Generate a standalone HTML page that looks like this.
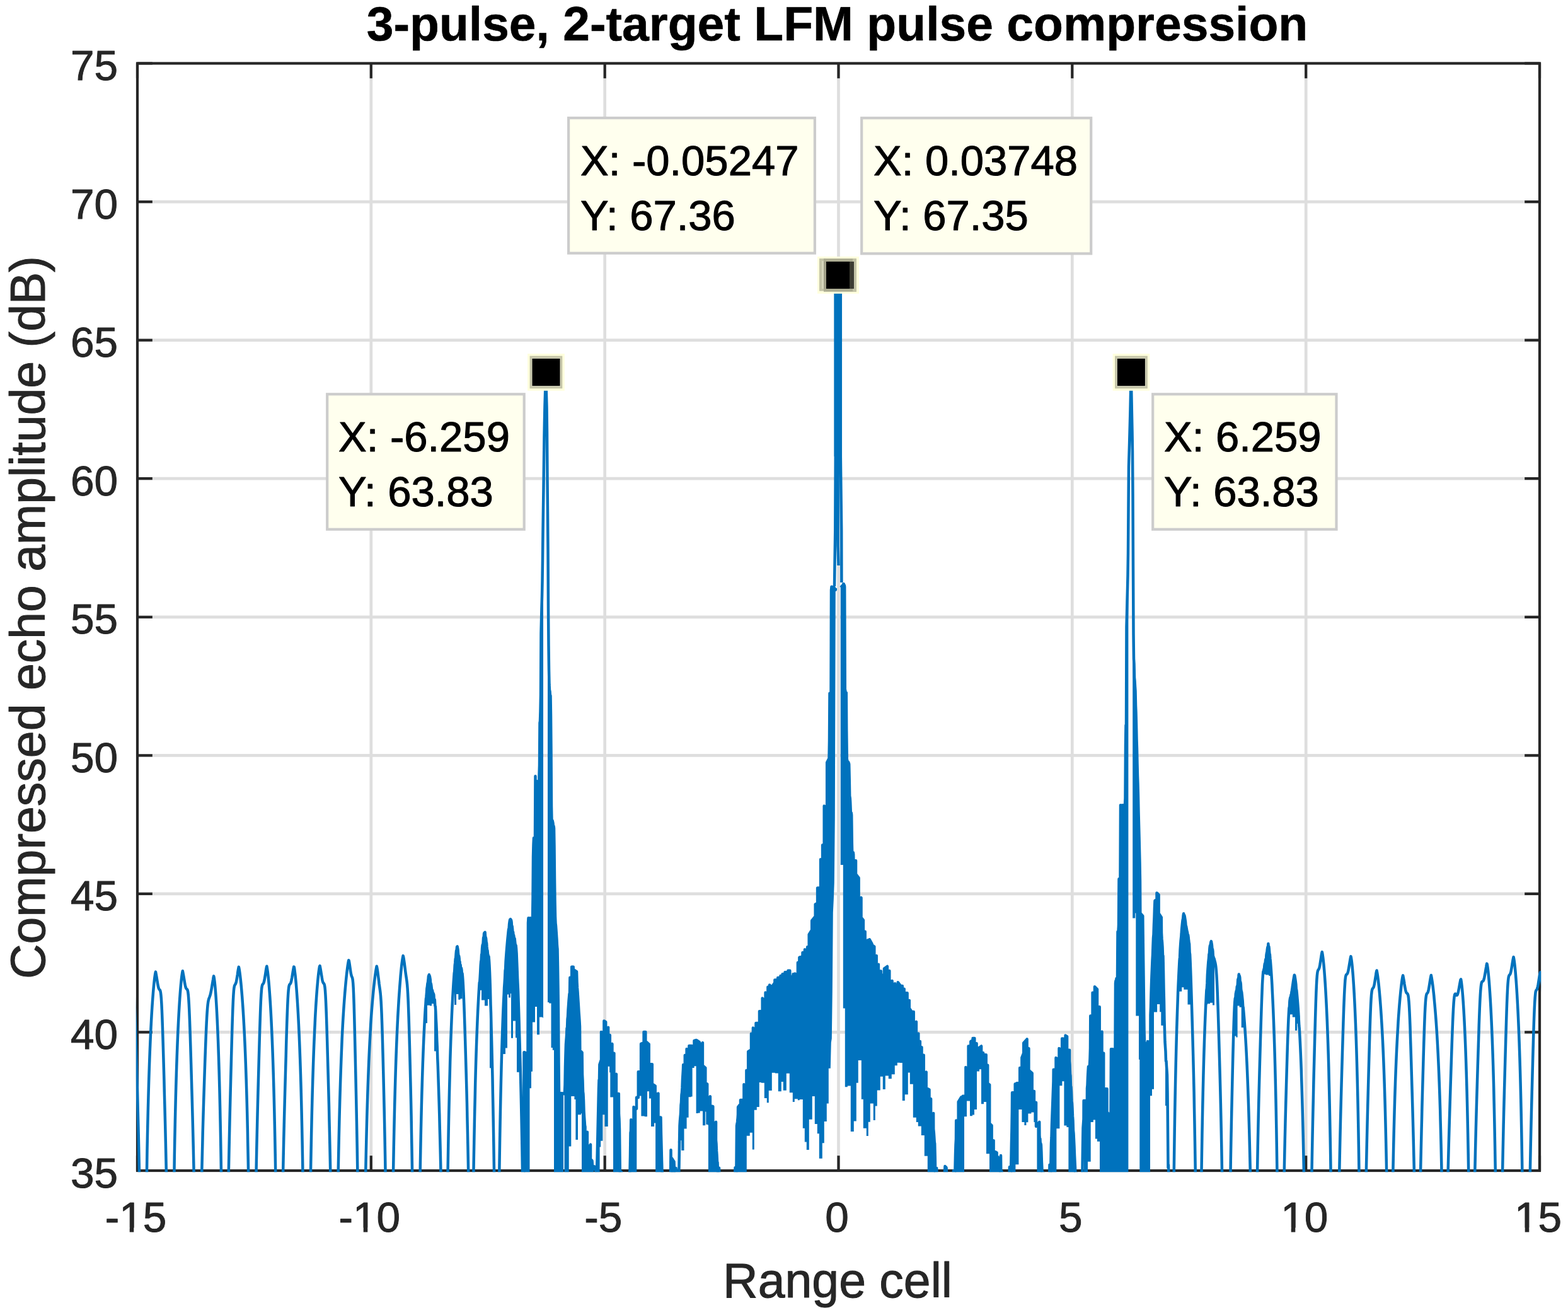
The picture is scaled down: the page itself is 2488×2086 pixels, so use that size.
<!DOCTYPE html>
<html><head><meta charset="utf-8"><title>3-pulse, 2-target LFM pulse compression</title>
<style>html,body{margin:0;padding:0;background:#fff;width:2488px;height:2086px;overflow:hidden}svg{display:block}</style>
</head><body><svg width="2488" height="2086" viewBox="0 0 2488 2086"><defs><clipPath id="clipax"><rect x="215.8" y="98.3" width="2229.4" height="1760.9"/></clipPath></defs><rect x="0" y="0" width="2488" height="2086" fill="#ffffff"/><path d="M588.8 100.5V1857.0M959.7 100.5V1857.0M1330.5 100.5V1857.0M1701.3 100.5V1857.0M2072.2 100.5V1857.0M218.0 1637.4H2443.0M218.0 1417.9H2443.0M218.0 1198.3H2443.0M218.0 978.8H2443.0M218.0 759.2H2443.0M218.0 539.6H2443.0M218.0 320.1H2443.0" stroke="#dedede" stroke-width="4.7" fill="none"/><path d="M218.0 1857.0V1833.2M218.0 100.5V124.3M588.8 1857.0V1833.2M588.8 100.5V124.3M959.7 1857.0V1833.2M959.7 100.5V124.3M1330.5 1857.0V1833.2M1330.5 100.5V124.3M1701.3 1857.0V1833.2M1701.3 100.5V124.3M2072.2 1857.0V1833.2M2072.2 100.5V124.3M2443.0 1857.0V1833.2M2443.0 100.5V124.3M218.0 1857.0H241.8M2443.0 1857.0H2419.2M218.0 1637.4H241.8M2443.0 1637.4H2419.2M218.0 1417.9H241.8M2443.0 1417.9H2419.2M218.0 1198.3H241.8M2443.0 1198.3H2419.2M218.0 978.8H241.8M2443.0 978.8H2419.2M218.0 759.2H241.8M2443.0 759.2H2419.2M218.0 539.6H241.8M2443.0 539.6H2419.2M218.0 320.1H241.8M2443.0 320.1H2419.2M218.0 100.5H241.8M2443.0 100.5H2419.2" stroke="#262626" stroke-width="4.2" fill="none"/><rect x="218.0" y="100.5" width="2225.0" height="1756.5" stroke="#262626" stroke-width="4.2" fill="none"/><g clip-path="url(#clipax)"><path d="M208.9 1567.3L209.4 1568.5L209.9 1569.2L210.4 1569.7L210.9 1570.2L211.4 1571.4L211.9 1573.6L212.4 1577.3L212.9 1582.9L213.4 1590.8L213.9 1600.9L214.4 1613.1L214.9 1627.2L215.4 1642.6L215.9 1659.2L216.4 1676.4L216.9 1694L217.4 1711.9L217.9 1730L218.4 1748.6L218.9 1767.6L219.4 1787.5L219.9 1808.5L220.4 1830.9L220.9 1854.9L221.4 1876L221.9 1876L222.4 1876L222.9 1876L223.4 1876L223.9 1876L224.4 1876L224.9 1876L225.4 1876L225.9 1876L226.4 1876L226.9 1876L227.4 1876L227.9 1876M227.1 1876L227.6 1876L228.1 1876L228.6 1876L229.1 1876L229.6 1876L230.1 1876L230.6 1876L231.1 1876L231.6 1876L232.1 1876L232.6 1876L233.1 1850.6L233.5 1823.5L234 1798.9L234.5 1776.5L235 1756L235.5 1737.2L236 1719.9L236.5 1703.9L237 1689.2L237.5 1675.5L238 1662.9L238.5 1651.1L239 1640.2L239.5 1629.9L240 1620.4L240.5 1611.5L241 1603.2L241.5 1595.4L242 1588.1L242.5 1581.3L243 1574.9L243.5 1569L244 1563.6L244.5 1558.6L245 1554.1L245.5 1550.1L246 1546.5L246.5 1543.6L247 1541.6L247.4 1543.9L247.9 1546.6L248.4 1549.5L248.9 1552.6L249.4 1555.7L249.9 1558.8L250.4 1561.7L250.9 1564.3L251.4 1566.4L251.9 1568L252.4 1569L252.9 1569.7L253.4 1570.2L253.9 1570.8L254.4 1572.1L254.9 1574.5L255.4 1578.5L255.9 1584.4L256.4 1592.6L256.9 1602.9L257.4 1615.4L257.9 1629.6L258.4 1645.1L258.9 1661.7L259.4 1678.9L259.9 1696.4L260.4 1714.2L260.8 1732.3L261.3 1750.8L261.8 1769.9L262.3 1789.7L262.8 1810.7L263.3 1833.1L263.8 1857.1L264.3 1876L264.8 1876L265.3 1876L265.8 1876L266.3 1876L266.8 1876L267.3 1876L267.8 1876L268.3 1876L268.8 1876L269.3 1876L269.8 1876L270.3 1876L270.8 1876M270.9 1876L271.4 1876L271.9 1876L272.4 1876L272.9 1876L273.4 1876L273.9 1876L274.4 1876L274.9 1876L275.4 1876L275.9 1876L276.4 1863.4L276.8 1833.7L277.3 1806.9L277.8 1782.6L278.3 1760.5L278.8 1740.3L279.3 1721.8L279.8 1704.8L280.3 1689.1L280.8 1674.6L281.3 1661.3L281.8 1648.9L282.3 1637.3L282.8 1626.6L283.3 1616.7L283.8 1607.4L284.3 1598.7L284.8 1590.7L285.3 1583.2L285.8 1576.2L286.3 1569.8L286.8 1563.9L287.3 1558.6L287.8 1553.8L288.3 1549.5L288.8 1545.8L289.3 1542.7L289.8 1540.3L290.3 1542.7L290.8 1545.3L291.3 1548.1L291.8 1551.1L292.3 1554.2L292.8 1557.2L293.3 1560.1L293.8 1562.7L294.3 1564.9L294.8 1566.6L295.3 1567.8L295.8 1568.5L296.3 1568.9L296.8 1569.3L297.3 1570L297.8 1571.4L298.3 1574L298.8 1578.2L299.3 1584.2L299.8 1592.3L300.3 1602.5L300.8 1614.6L301.3 1628.2L301.8 1643.2L302.3 1659L302.8 1675.5L303.3 1692.3L303.8 1709.4L304.3 1726.7L304.8 1744.4L305.3 1762.6L305.8 1781.5L306.3 1801.4L306.8 1822.4L307.3 1844.9L307.8 1869.1L308.3 1876L308.8 1876L309.3 1876L309.8 1876L310.3 1876L310.8 1876L311.3 1876L311.8 1876L312.3 1876L312.8 1876L313.3 1876L313.8 1876L314.3 1876L314.8 1876M312.3 1876L312.8 1876L313.3 1876L313.8 1876L314.3 1876L314.8 1876L315.3 1876L315.8 1876L316.3 1876L316.8 1876L317.3 1876L317.8 1876L318.3 1876L318.8 1876L319.3 1876L319.8 1876L320.3 1856.4L320.8 1835.2L321.3 1815.4L321.7 1796.7L322.2 1779L322.7 1762.1L323.2 1745.9L323.7 1730.2L324.2 1714.9L324.7 1700L325.2 1685.4L325.7 1671.3L326.2 1657.8L326.7 1645L327.2 1633.1L327.7 1622.4L328.2 1613L328.7 1605L329.2 1598.6L329.7 1593.5L330.2 1589.7L330.7 1587L331.2 1585L331.7 1583.5L332.2 1582.3L332.7 1581L333.2 1579.6L333.7 1577.9L334.2 1575.9L334.7 1573.5L335.2 1570.9L335.7 1568.1L336.2 1565.1L336.7 1562L337.2 1559L337.7 1556.1L338.2 1553.3L338.6 1550.7L339.1 1548.4L339.6 1550.4L340.1 1553.7L340.6 1557.8L341.1 1562.6L341.6 1568.1L342.1 1574.4L342.6 1581.4L343.1 1589.1L343.6 1597.5L344.1 1606.7L344.6 1616.7L345.1 1627.6L345.6 1639.4L346.1 1652.2L346.6 1666.1L347.1 1681.2L347.6 1697.6L348.1 1715.6L348.6 1735.2L349.1 1756.6L349.6 1780.3L350.1 1806.4L350.6 1835.5L351.1 1868L351.6 1876L352.1 1876L352.6 1876L353.1 1876L353.6 1876L354.1 1876L354.6 1876L355.1 1876L355.5 1876L356 1876M356.5 1876L357 1876L357.5 1876L358 1876L358.5 1876L359 1876L359.5 1876L360 1876L360.5 1876L361 1876L361.4 1876L361.9 1876L362.4 1876L362.9 1854.3L363.4 1828.5L363.9 1804.7L364.4 1782.4L364.9 1761.3L365.4 1741.2L365.9 1721.6L366.4 1702.3L366.9 1683.4L367.4 1664.8L367.9 1646.7L368.4 1629.4L368.9 1613.5L369.4 1599.5L369.9 1587.7L370.4 1578.4L370.9 1571.6L371.4 1567.1L371.9 1564.3L372.4 1562.9L372.9 1562.1L373.4 1561.4L373.9 1560.5L374.4 1559.1L374.9 1557.2L375.4 1554.6L375.9 1551.7L376.4 1548.5L376.9 1545.3L377.3 1542.1L377.8 1539L378.3 1536.3L378.8 1533.9L379.3 1535.8L379.8 1538.7L380.3 1542L380.8 1545.7L381.3 1549.9L381.8 1554.4L382.3 1559.3L382.8 1564.6L383.3 1570.2L383.8 1576.2L384.3 1582.5L384.8 1589.3L385.3 1596.5L385.8 1604.1L386.3 1612.2L386.8 1620.8L387.3 1630L387.8 1639.8L388.3 1650.4L388.8 1661.6L389.3 1673.7L389.8 1686.8L390.3 1700.8L390.8 1716L391.3 1732.4L391.8 1750.1L392.3 1769.4L392.8 1790.4L393.2 1813.3L393.7 1838.4L394.2 1865.9L394.7 1876L395.2 1876L395.7 1876L396.2 1876L396.7 1876L397.2 1876L397.7 1876L398.2 1876L398.7 1876L399.2 1876L399.7 1876L400.2 1876M399.9 1876L400.4 1876L400.9 1876L401.4 1876L401.9 1876L402.4 1876L402.9 1876L403.4 1876L403.9 1876L404.4 1876L404.9 1876L405.4 1876L405.9 1876L406.4 1865.9L406.9 1840L407.4 1816L407.9 1793.7L408.4 1772.8L408.9 1752.8L409.4 1733.6L409.9 1714.8L410.4 1696.4L410.9 1678.3L411.4 1660.5L411.9 1643.2L412.4 1626.7L412.9 1611.6L413.4 1598.2L413.9 1586.8L414.4 1577.8L414.9 1571L415.4 1566.5L415.9 1563.7L416.4 1562.1L416.9 1561.4L417.4 1560.8L417.9 1560.1L418.4 1559L418.9 1557.4L419.4 1555.3L419.9 1552.6L420.4 1549.7L420.9 1546.5L421.4 1543.3L421.9 1540.2L422.3 1537.3L422.8 1534.6L423.3 1532.7L423.8 1535.3L424.3 1538.5L424.8 1542.1L425.3 1546.4L425.8 1551.1L426.3 1556.3L426.8 1562L427.3 1568.2L427.8 1574.8L428.3 1582L428.8 1589.7L429.3 1597.9L429.8 1606.7L430.3 1616.2L430.8 1626.3L431.3 1637.1L431.8 1648.8L432.3 1661.3L432.8 1674.9L433.3 1689.5L433.8 1705.3L434.3 1722.5L434.8 1741.2L435.3 1761.6L435.8 1783.9L436.3 1808.3L436.8 1835.3L437.3 1865.2L437.8 1876L438.3 1876L438.8 1876L439.3 1876L439.8 1876L440.3 1876L440.8 1876L441.3 1876L441.8 1876L442.3 1876L442.8 1876M442.3 1876L442.8 1876L443.3 1876L443.8 1876L444.3 1876L444.8 1876L445.3 1876L445.8 1876L446.3 1876L446.8 1876L447.3 1876L447.8 1876L448.3 1876L448.8 1876L449.3 1850.9L449.8 1826.9L450.3 1804.5L450.8 1783.5L451.3 1763.6L451.8 1744.6L452.3 1726.2L452.8 1708.2L453.3 1690.5L453.8 1673L454.2 1655.9L454.7 1639.4L455.2 1623.7L455.7 1609.3L456.2 1596.6L456.7 1585.8L457.2 1577.2L457.7 1570.8L458.2 1566.5L458.7 1563.7L459.2 1562.3L459.7 1561.5L460.2 1561.1L460.7 1560.5L461.2 1559.6L461.7 1558.2L462.2 1556.2L462.7 1553.8L463.2 1551.1L463.7 1548L464.2 1544.9L464.7 1541.8L465.2 1538.8L465.7 1536.1L466.2 1533.6L466.7 1533.8L467.2 1536.6L467.6 1539.9L468.1 1543.8L468.6 1548.1L469.1 1553L469.6 1558.3L470.1 1564.1L470.6 1570.4L471.1 1577.2L471.6 1584.4L472.1 1592.1L472.6 1600.4L473.1 1609.3L473.6 1618.8L474.1 1629L474.6 1639.9L475.1 1651.6L475.6 1664.2L476.1 1677.8L476.6 1692.5L477.1 1708.4L477.6 1725.6L478.1 1744.4L478.6 1764.9L479.1 1787.2L479.6 1811.8L480.1 1838.8L480.6 1868.7L481 1876L481.5 1876L482 1876L482.5 1876L483 1876L483.5 1876L484 1876L484.5 1876L485 1876L485.5 1876L486 1876M487.3 1876L487.8 1876L488.3 1876L488.7 1876L489.2 1876L489.7 1876L490.2 1876L490.7 1876L491.2 1876L491.7 1876L492.2 1876L492.7 1876L493.2 1846.5L493.7 1819.3L494.2 1794.6L494.7 1772L495.2 1751.4L495.7 1732.4L496.2 1715L496.7 1699L497.2 1684.1L497.7 1670.4L498.2 1657.6L498.7 1645.8L499.2 1634.7L499.7 1624.4L500.1 1614.8L500.6 1605.8L501.1 1597.4L501.6 1589.5L502.1 1582.1L502.6 1575.2L503.1 1568.7L503.6 1562.7L504.1 1557.1L504.6 1551.9L505.1 1547.1L505.6 1542.8L506.1 1539L506.6 1535.7L507.1 1532.9L507.6 1532.1L508.1 1534.6L508.6 1537.3L509.1 1540.3L509.6 1543.5L510.1 1546.6L510.6 1549.7L511 1552.5L511.5 1555L512 1556.9L512.5 1558.3L513 1559.2L513.5 1559.8L514 1560.4L514.5 1561.3L515 1563.2L515.5 1566.4L516 1571.5L516.5 1578.8L517 1588.4L517.5 1600.2L518 1613.9L518.5 1629.3L519 1645.8L519.5 1663L520 1680.8L520.5 1698.8L521 1717.1L521.5 1735.7L522 1754.9L522.4 1774.8L522.9 1795.8L523.4 1818.1L523.9 1842.1L524.4 1868L524.9 1876L525.4 1876L525.9 1876L526.4 1876L526.9 1876L527.4 1876L527.9 1876L528.4 1876L528.9 1876L529.4 1876L529.9 1876L530.4 1876L530.9 1876M530.3 1876L530.8 1876L531.3 1876L531.8 1876L532.3 1876L532.8 1876L533.3 1876L533.8 1876L534.3 1876L534.8 1876L535.3 1876L535.8 1876L536.3 1876L536.8 1852.3L537.3 1826.6L537.8 1803.2L538.3 1781.6L538.8 1761.8L539.3 1743.5L539.8 1726.5L540.3 1710.9L540.8 1696.3L541.3 1682.8L541.8 1670.2L542.3 1658.5L542.7 1647.6L543.2 1637.5L543.7 1627.9L544.2 1619L544.7 1610.7L545.2 1602.8L545.7 1595.4L546.2 1588.4L546.7 1581.8L547.2 1575.5L547.7 1569.5L548.2 1563.9L548.7 1558.5L549.2 1553.4L549.7 1548.6L550.2 1544L550.7 1539.8L551.2 1535.8L551.7 1532.1L552.2 1528.8L552.7 1525.9L553.2 1523.3L553.7 1523.9L554.2 1526.7L554.7 1529.8L555.2 1533.3L555.7 1536.9L556.2 1540.4L556.7 1543.5L557.2 1546.1L557.7 1547.9L558.2 1549.1L558.7 1550.2L559.2 1551.7L559.7 1554.5L560.2 1559.6L560.7 1567.7L561.2 1579.2L561.7 1594L562.2 1611.7L562.7 1631.6L563.2 1652.9L563.7 1674.9L564.2 1697.3L564.7 1720.1L565.2 1743.3L565.7 1767.5L566.2 1793.1L566.7 1820.8L567.2 1850.9L567.7 1876L568.2 1876L568.7 1876L569.2 1876L569.7 1876L570.2 1876L570.7 1876L571.2 1876L571.7 1876L572.2 1876L572.7 1876M573.4 1876L573.9 1876L574.4 1876L574.8 1876L575.3 1876L575.8 1876L576.3 1876L576.8 1876L577.3 1876L577.8 1876L578.3 1876L578.8 1876L579.3 1876L579.8 1876L580.3 1855.1L580.8 1831.3L581.3 1809.3L581.8 1789.1L582.3 1770.3L582.8 1753L583.3 1736.9L583.8 1721.9L584.3 1708L584.8 1695L585.3 1682.9L585.8 1671.7L586.3 1661.1L586.8 1651.3L587.3 1642.1L587.8 1633.5L588.2 1625.4L588.7 1617.8L589.2 1610.7L589.7 1603.9L590.2 1597.5L590.7 1591.4L591.2 1585.6L591.7 1580.1L592.2 1574.8L592.7 1569.8L593.2 1564.9L593.7 1560.4L594.2 1556L594.7 1551.8L595.2 1547.9L595.7 1544.3L596.2 1540.9L596.7 1537.8L597.2 1535.1L597.7 1532.7L598.2 1534.9L598.7 1537.8L599.2 1541.2L599.7 1545L600.2 1549L600.7 1553L601.2 1557L601.6 1560.8L602.1 1564.4L602.6 1567.8L603.1 1571.4L603.6 1575.6L604.1 1581L604.6 1588.1L605.1 1597.3L605.6 1608.9L606.1 1622.8L606.6 1638.7L607.1 1656.2L607.6 1674.9L608.1 1694.5L608.6 1714.8L609.1 1735.9L609.6 1757.9L610.1 1781.4L610.6 1806.5L611.1 1833.9L611.6 1863.9L612.1 1876L612.6 1876L613.1 1876L613.6 1876L614.1 1876L614.6 1876L615 1876L615.5 1876L616 1876L616.5 1876L617 1876M618.2 1876L618.7 1876L619.2 1876L619.7 1876L620.2 1876L620.7 1876L621.2 1876L621.7 1876L622.2 1876L622.7 1876L623.2 1876L623.7 1876L624.2 1850.1L624.7 1822.5L625.2 1797.3L625.7 1774.4L626.2 1753.4L626.7 1734L627.2 1716.2L627.7 1699.8L628.2 1684.6L628.7 1670.5L629.2 1657.5L629.7 1645.3L630.2 1634L630.7 1623.5L631.2 1613.6L631.7 1604.4L632.2 1595.8L632.7 1587.6L633.2 1580L633.7 1572.8L634.2 1566L634.7 1559.6L635.2 1553.6L635.6 1547.9L636.1 1542.6L636.6 1537.7L637.1 1533.1L637.6 1528.8L638.1 1525L638.6 1521.6L639.1 1518.6L639.6 1516.1L640.1 1517.8L640.6 1520.7L641.1 1524L641.6 1527.6L642.1 1531.5L642.6 1535.5L643.1 1539.5L643.6 1543.2L644.1 1546.8L644.6 1550.1L645.1 1553.5L645.6 1557.3L646.1 1562L646.6 1568.1L647.1 1576.1L647.6 1586.4L648.1 1598.8L648.6 1613.4L649.1 1629.7L649.6 1647.3L650.1 1665.9L650.6 1685.3L651.1 1705.4L651.6 1726.3L652.1 1748.3L652.6 1771.7L653 1796.8L653.5 1824.3L654 1854.4L654.5 1876L655 1876L655.5 1876L656 1876L656.5 1876L657 1876L657.5 1876L658 1876L658.5 1876L659 1876L659.5 1876M661 1876L661.5 1876L662 1876L662.5 1876L663 1876L663.5 1876L664 1876L664.5 1876L664.9 1876L665.4 1876L665.9 1876L666.4 1875.8L666.9 1845.9L667.4 1818.9L667.9 1794.4L668.4 1772L668.9 1751.6L669.4 1732.9L669.9 1715.7L670.4 1699.8L670.9 1685.2L671.4 1671.6L671.9 1659L672.4 1647.3L672.9 1636.4L673.4 1626.3L673.9 1616.8L674.4 1608L674.9 1599.7L675.4 1593.1L675.9 1584.8L676.4 1581.3L676.9 1576.3L677.4 1567.9L677.9 1565.2L678.4 1560.4L678.9 1558.5L679.4 1554.9L679.9 1548.8L680.4 1547.4L680.9 1546.1L681.3 1548.6L681.8 1548.3L682.3 1551.2L682.8 1554.2L683.3 1563.9L683.8 1560.3L684.3 1563.2L684.8 1567.5L685.3 1574.7L685.8 1570.5L686.3 1572.4L686.8 1578L687.3 1575.2L687.8 1576.5L688.3 1577.9L688.8 1586L689.3 1588.1L689.8 1585.8L690.3 1595.1L690.8 1596.7L691.3 1604.4L691.8 1615.5L692.3 1624.1L692.8 1635.8L693.3 1650.9L693.8 1662L694.3 1679.1L694.8 1690.7L695.3 1705.7L695.8 1721L696.3 1736.8L696.8 1753L697.3 1769.9L697.7 1787.6L698.2 1806.3L698.7 1826.1L699.2 1847.2L699.7 1869.9L700.2 1876L700.7 1876L701.2 1876L701.7 1876L702.2 1876L702.7 1876L703.2 1876L703.7 1876L704.2 1876L704.7 1876L705.2 1876L705.7 1876L706.2 1876L706.7 1876L707.2 1876M705.3 1876L705.8 1876L706.3 1876L706.8 1876L707.3 1876L707.8 1876L708.3 1876L708.8 1876L709.3 1876L709.8 1876L710.3 1876L710.8 1845.2L711.3 1815.1L711.8 1787.9L712.3 1763.2L712.8 1740.7L713.3 1720L713.8 1701.1L714.2 1683.7L714.7 1667.6L715.2 1652.8L715.7 1639.1L716.2 1626.3L716.7 1614.5L717.2 1603.4L717.7 1593.2L718.2 1583.5L718.7 1574.5L719.2 1566.1L719.7 1558.2L720.2 1550.8L720.7 1543.9L721.2 1540.9L721.7 1531.4L722.2 1527.2L722.7 1520.7L723.1 1520.7L723.6 1513.5L724.1 1507.9L724.6 1507.4L725.1 1501.9L725.6 1501.5L726.1 1504L726.6 1506.8L727.1 1513.4L727.6 1517.1L728.1 1516.3L728.6 1519.5L729.1 1525.9L729.6 1525.6L730.1 1533.7L730.6 1530.5L731.1 1536.1L731.6 1539.5L732 1535.8L732.5 1538.9L733 1546.9L733.5 1544L734 1549L734.5 1555.7L735 1564.1L735.5 1574.3L736 1586.2L736.5 1599.5L737 1614L737.5 1629.3L738 1645.2L738.5 1661.6L739 1678.5L739.5 1695.8L740 1713.6L740.5 1732.2L741 1751.8L741.4 1772.6L741.9 1794.8L742.4 1818.8L742.9 1844.9L743.4 1873.3L743.9 1876L744.4 1876L744.9 1876L745.4 1876L745.9 1876L746.4 1876L746.9 1876L747.4 1876L747.9 1876L748.4 1876L748.9 1876L749.4 1876M745.8 1876L746.3 1876L746.8 1876L747.3 1876L747.8 1876L748.3 1876L748.8 1876L749.3 1876L749.8 1876L750.3 1876L750.8 1876L751.3 1868.3L751.8 1837.3L752.3 1809.2L752.8 1783.5L753.3 1760L753.8 1738.4L754.2 1718.5L754.7 1700.1L755.2 1683.1L755.7 1667.3L756.2 1652.7L756.7 1639.1L757.2 1626.5L757.7 1614.7L758.2 1603.7L758.7 1593.5L759.2 1583.9L759.7 1574.9L760.2 1566.5L760.7 1558.6L761.2 1558L761.7 1550.2L762.2 1541.6L762.7 1531.1L763.2 1525.1L763.6 1523.5L764.1 1514L764.6 1513L765.1 1503.9L765.6 1499.3L766.1 1498.5L766.6 1495.9L767.1 1487.2L767.6 1489.6L768.1 1480.6L768.6 1481.7L769.1 1479.2L769.6 1478.8L770.1 1486.2L770.6 1486.8L771.1 1488.7L771.6 1494.5L772.1 1496.2L772.5 1502L773 1506.8L773.5 1507.8L774 1513.4L774.5 1514.9L775 1520.3L775.5 1517.3L776 1523.1L776.5 1531.2L777 1541.8L777.5 1555.1L778 1570.6L778.5 1593.3L779 1606.6L779.5 1628.3L780 1646.3L780.5 1667L781 1688.3L781.5 1710.6L781.9 1734.2L782.4 1759.6L782.9 1787.1L783.4 1817.4L783.9 1850.9L784.4 1876L784.9 1876L785.4 1876L785.9 1876L786.4 1876L786.9 1876L787.4 1876L787.9 1876L788.4 1876L788.9 1876M787.1 1876L787.6 1876L788.1 1876L788.6 1876L789.1 1876L789.6 1876L790.1 1876L790.6 1876L791.1 1876L791.6 1876L792.1 1873.3L792.6 1839.1L793.1 1808.2L793.6 1780.2L794.1 1754.6L794.6 1731.3L795.1 1709.8L795.6 1690L796.1 1671.8L796.6 1654.9L797.1 1639.3L797.6 1624.9L798.1 1611.4L798.6 1599L799.1 1587.3L799.6 1578.3L800.1 1566.4L800.6 1559.7L801.1 1551.4L801.6 1539.8L802.1 1536.8L802.6 1524.6L803.1 1517.6L803.6 1511L804.1 1504.8L804.6 1498.9L805.1 1493.3L805.6 1487.9L806.1 1482.9L806.6 1478.1L807.1 1473.7L807.6 1473L808.1 1465.6L808.6 1462.1L809.1 1459L809.6 1459.1L810.1 1458L810.6 1460.4L811.1 1459.8L811.6 1462.7L812.1 1470.6L812.6 1469.1L813.1 1473.4L813.6 1480.6L814.1 1478.5L814.6 1484L815.1 1483.5L815.6 1486.7L816.1 1491.8L816.6 1488.8L817.1 1493.8L817.6 1498.2L818.1 1500.7L818.6 1499.7L819.1 1505.3L819.6 1512.6L820.1 1525.3L820.6 1537.9L821.1 1551.5L821.6 1562.2L822.1 1572.7L822.6 1588L823.1 1603.9L823.6 1620.2L824.1 1638.5L824.6 1655.4L825.1 1671.9L825.6 1690.5L826.1 1710.1L826.6 1731L827.1 1753.3L827.6 1777.4L828.1 1803.5L828.6 1832L829.1 1863.3L829.6 1876L830.1 1876L830.6 1876L831.1 1876L831.6 1876L832.1 1876L832.6 1876L833.1 1876L833.6 1876L834.1 1876L834.6 1876M829 1876L829.5 1859.4L830 1863.4L830.5 1867.3L831 1870.8L831.5 1669.2L832 1669.2L832.5 1669.2L832.9 1671.2L836.8 1669.2L837 1676.7L837.5 1670.3L838 1463.9L838.5 1456.2L839 1456.2L839.5 1672.3L840 1541.6L840.5 1460L841 1461.1L841.5 1456.2L842 1459.1L842.5 1458.1L843 1463.5L843.5 1460L844 1461.2L844.5 1459L845 1458L845.5 1424.6L846 1359L846.5 1339.8L847 1329.2L847.5 1330.3L848 1329.2L848.5 1329L849 1328.7L849.5 1231.2L850 1324L850.5 1294L851 1291L851.4 1238.9L855.4 1244.3L855.5 1230.1L856 1214L856.5 1146.6L857 1143.9L857.5 1128.6L858 1102.4L858.5 1004.3L859 984L859.5 964L860 946.9L860.5 923.5L861 887.5L861.5 842.4L862 806.7L862.5 773.3L863 732L863.5 693.2L864 666.2L864.5 643.3L865 626.5L865.5 609.8L866 593L866.5 610.8L867 628.6L867.5 646.4L868 686L868.5 760L869 811.7L869.5 871.4L870 965L870.5 1023.2L871 1061.8L871.5 1085.7L872 1095L872.5 1096.7L873 1104.2L873.5 1103.6L874 1136L874.5 1192.3L875 1279.1L875.5 1302.6L876 1305.4L876.5 1301.4L877 1303.6L877.5 1305.9L878 1313.3L878.5 1310.4L879 1313.9L879.5 1343.4L880 1392.9L880.5 1429.5L881 1453.5L881.5 1464.9L882 1468.8L882.5 1476.2L883 1483.5L883.5 1490.9L884 1500.8L884.5 1505.6L885 1533.3L885.5 1567.2L886 1608L886.5 1685.5L887 1732L887.5 1733.5L888 1733.9L888.5 1738.7L888.9 1734.2L892.1 1734.2L892.1 1735.9L894.9 1734.2L895 1733.9L895.5 1735.3L896 1732L896.5 1721L897 1692L897.5 1672.6L898 1656.4L898.5 1649.6L899 1643.8L899.5 1631.1L900 1631.8L900.5 1616.8L901 1612.9L901.5 1602.4L902 1595.2L902.5 1588L903 1582.3L903.5 1576.5L904 1575.2L904.4 1550.7L907.2 1550.7L907.2 1533.7L909.7 1533.7L909.7 1537.8L915 1541.4L915.5 1557.8L916 1566.9L916.5 1573.2L917 1580.9L917.5 1588.6L918 1596.3L918.5 1605.3L919 1611.8L919.5 1619.5L920 1628.6L920.3 1666.4L923.6 1669.7L924 1704.3L924.5 1714.2L925 1731.6L925.5 1735.4L926 1745.9L926.5 1762.4L927 1771L927.5 1777.7L928 1785L928.5 1787.4L928.5 1803.2L931.9 1795.9L931.9 1823L937 1815.7L937 1838.6L939.5 1841.2L940 1848.6L940.5 1850.1L941 1851.2L941.5 1852.4L942 1853.6L942.5 1854.7L943 1850.3L943.5 1851.5L944 1852.7L944.5 1853.8L945 1855L945.5 1857L946 1856.7L946.5 1856.1L947 1854.5L947.5 1841.3L948 1818.5L948.5 1795.6L949 1772.8L949.5 1750L950 1727.1L950.5 1713.2L951 1712.5L951.4 1688.6L954 1680.9L954 1636.9L958.4 1640.2L958.4 1619.5L961.2 1621.2L961.2 1632.7L965.1 1629.9L965.1 1648L967.8 1642.1L967.8 1659.7L971.4 1656L971.4 1678.2L974.4 1670.8L974.4 1707L977.9 1704L977.9 1735L981.8 1735L982 1767.5L982.5 1775.4L983 1791L983.5 1833.5L984 1876L984.5 1873.2L985 1869.4L985.5 1865.4L986 1859L986.2 1876M997 1876L997.5 1864.5L998 1867.4L998.5 1870.1L999 1872.5L999.5 1857.7L1000 1833.5L1000.5 1796.9L1001 1794.2L1001.3 1776.3L1005.5 1781.3L1005.5 1756.1L1010 1758.6L1010 1741.1L1012.8 1741.1L1012.8 1700.2L1017.1 1700.2L1017.1 1655.9L1021.6 1654.1L1021.6 1637L1024.3 1637L1024.3 1651.8L1029.7 1656.4L1029.7 1688.2L1034.8 1688.2L1034.8 1719.5L1039.7 1722.6L1039.7 1736.6L1044.5 1734.7L1044.5 1772.2L1048.5 1772.6L1049 1799.8L1049.5 1818.9L1050 1840.1L1050.5 1857L1051 1876L1051.5 1875.6L1052 1874.1L1052.5 1872.4L1053 1868.4L1053.2 1876M1063.5 1876L1064 1865.6L1064.5 1824.2L1065 1870.7L1065.5 1872.9L1066 1859.2L1066.2 1837.6L1069.2 1842.5L1069.5 1842.7L1070 1854.9L1070.5 1856.1L1071 1863.7L1071.5 1871.4L1072 1875.9L1072.5 1853L1073 1860.7L1073.5 1868.3L1074 1876M1075 1876L1075.5 1859L1076 1863.1L1076.5 1867.1L1077 1870.7L1077.5 1850.4L1078 1814.7L1078.5 1785.9L1079 1777.7L1079.5 1772L1080 1767L1080.5 1753.1L1081 1749L1081.5 1736.7L1082 1733.3L1082.5 1725.4L1083 1712L1083.5 1703.8L1084 1695.6L1084.2 1689.1L1086.8 1689.7L1086.8 1673.9L1089.6 1678.9L1089.6 1664L1093.4 1666.7L1093.4 1658.9L1097.8 1658.9L1097.8 1664.9L1101.5 1658.2L1101.5 1651L1104.9 1650L1104.9 1650L1109.8 1653.2L1109.8 1661.4L1114.9 1654L1114.9 1690.3L1119.3 1693.9L1119.3 1718L1122.2 1719.7L1122.2 1746.2L1126.9 1739.4L1126.9 1753.9L1131.3 1755.2L1131.3 1784.3L1136 1779.9L1136 1808.7L1136.5 1814.1L1137 1825.7L1137.5 1832.9L1138 1842.9L1138.5 1843.9L1139 1858.5L1139.5 1873.1L1140 1873.1L1140.5 1872.1L1141 1852.7L1141.5 1867.3L1141.8 1876M1166 1876L1166.5 1852.2L1167 1857.8L1167.5 1863.3L1168 1868.4L1168.5 1846L1169 1785.6L1169.5 1783L1170 1780L1170.5 1775.6L1171 1768L1171.1 1756.2L1175 1751.1L1175 1744.9L1180.4 1744.2L1180.4 1720.3L1184.4 1724.6L1184.4 1698.1L1187.2 1704.5L1187.2 1668.2L1192 1665.3L1192 1639.7L1194.9 1643.6L1194.9 1630.5L1199.5 1635L1199.5 1623.1L1205 1623.1L1205 1604.3L1209.7 1604.3L1209.7 1583.6L1214.6 1588.1L1214.6 1574.4L1218.4 1579.2L1218.4 1565.7L1221.1 1565.7L1221.1 1562.5L1224.3 1566L1224.3 1566.4L1229.4 1558.7L1229.4 1554.5L1234.2 1554.5L1234.2 1550.9L1238.5 1550.9L1238.5 1548L1241.6 1548L1241.6 1545.3L1245.5 1545.3L1245.5 1542.3L1250.5 1542.3L1250.5 1539.8L1253.3 1539.8L1253.3 1548.8L1258.5 1549.7L1258.5 1545.2L1261.2 1551L1261.2 1544.4L1265.9 1546.8L1265.9 1527.1L1268.4 1531.9L1268.4 1518.7L1273.5 1516.5L1273.5 1511.2L1277 1509.9L1277 1506.2L1281.1 1510.3L1281.1 1502.3L1283.7 1502.6L1283.7 1482.5L1288.2 1475.2L1288.2 1460.5L1293.7 1453.8L1293.7 1434.5L1297.1 1432.9L1297.1 1408.6L1302.1 1408.3L1302.1 1363.3L1305.1 1366L1305.1 1340.4L1307.7 1344.8L1307.7 1278.6L1312.2 1280.5L1312.2 1209.6L1315.5 1203L1316 1175.4L1316.5 1099.7L1317 1099.7L1317.5 1099.7L1318 1099.6L1318.5 1099.4L1319 935.9L1319.5 930.8L1320 930.8L1320.2 934.1L1322.9 930.8L1322.9 930.8L1325.8 935.7L1325.8 932.9M1325.8 440L1325.8 724L1325.3 841L1324 930M1329.6 440L1329.6 866L1330.5 897M1333.8 440L1333.8 724L1335.2 841L1335.4 924M1333.8 928.8L1338 931.5L1338.2 926.2L1338.8 926.2L1339.2 931L1339.8 928.3L1340.2 930.9L1340.8 1094.6L1341.2 1094.7L1341.8 1102.6L1342.2 1100.2L1342.8 1098.8L1343.2 1159.3L1343.8 1203.8L1344.2 1206.4L1344.8 1208.9L1345.2 1213.5L1345.8 1208.5L1346.2 1209.3L1346.8 1210.6L1347.2 1212.2L1347.8 1239L1348.2 1262.5L1348.8 1266.2L1349.2 1272.5L1349.8 1287.5L1350.2 1289L1350.8 1289.4L1351.2 1292.7L1351.8 1337.5L1352.2 1354L1352.8 1358.3L1353.2 1355L1353.8 1352.2L1354.2 1355.4L1354.4 1365.2L1358 1365.2L1358 1386.7L1362.6 1392.7L1362.6 1429.5L1366.5 1424L1366.5 1455.4L1369.9 1459.6L1369.9 1481.7L1372.7 1477.9L1372.7 1494.3L1377 1491.4L1377 1494.2L1379.7 1492.7L1379.7 1490.2L1383.6 1497.4L1383.6 1499.1L1387.3 1501.7L1387.3 1517.3L1390.7 1516.1L1390.7 1531.7L1393.9 1529.9L1393.9 1540.5L1397.9 1540.5L1397.9 1547.1L1403 1546.6L1403 1536.6L1407.9 1533L1407.9 1547.7L1411.3 1540.1L1411.3 1558.3L1415.6 1556.1L1415.6 1562.2L1420 1560.3L1420 1562.1L1424.7 1561.7L1424.7 1558.2L1429.1 1564L1429.1 1563.9L1431.8 1563.9L1431.8 1568.7L1434.7 1568.7L1434.7 1575.3L1439.6 1575.3L1439.6 1588.9L1442.8 1587L1442.8 1599.4L1447 1605.5L1447 1605L1449.7 1605L1449.7 1625.4L1453.9 1620.9L1453.9 1646.4L1457.3 1639.6L1457.3 1652L1459.9 1652L1459.9 1666.8L1462.5 1661.3L1462.5 1673.7L1465.7 1673.7L1465.7 1704.8L1469.7 1700.6L1469.7 1726L1474.5 1728.4L1474.5 1746L1477.1 1743.2L1477.1 1773.6L1481.1 1766.1L1481.2 1791.1L1481.8 1796.9L1482.2 1802.6L1482.8 1812.3L1483.2 1814.1L1483.8 1837.7L1484.2 1863.2L1484.8 1875.8L1485.2 1873.9L1485.8 1871.7L1486.2 1853L1486.7 1876M1498 1876L1498.5 1867.3L1499 1858.7L1499.5 1850L1500 1850.5L1500.5 1851L1501 1851.5L1501.5 1852L1502 1860L1502.5 1868L1503 1876M1512 1876L1512.5 1866.5L1513 1857L1513.5 1875.3L1514 1875.6L1514.5 1870.3L1515 1860.8L1515.5 1854.4L1516 1831.8L1516.5 1816L1517 1807.2L1517.2 1777.4L1520.7 1780L1520.7 1747.8L1525.1 1740.6L1525.1 1749L1527.7 1741.8L1527.7 1738.8L1532.4 1738.8L1532.4 1693.1L1536.6 1695.4L1536.6 1659.4L1540.3 1659.4L1540.3 1652L1543.6 1649.8L1543.6 1647.1L1546.3 1647.1L1546.3 1655.3L1549.6 1655.3L1549.6 1660.3L1553.4 1665.6L1553.4 1662.2L1557.1 1659.5L1557.1 1669.3L1560.1 1670.2L1560.1 1673.3L1564.7 1673.3L1564.7 1689.8L1567.2 1689.8L1567.2 1718.7L1570.2 1720.8L1570.2 1782.2L1573.6 1785.4L1573.6 1811.4L1576.6 1809.3L1576.6 1825.7L1581.6 1828.4L1581.6 1833.6L1586.9 1839.5L1587 1850.6L1587.5 1863.3L1588 1833.1L1588.5 1876L1589 1875.4L1589.5 1858.2L1590 1870.9L1590.2 1876M1601.4 1876L1601.9 1851.3L1602.4 1869.4L1602.9 1871.5L1603.4 1873.4L1603.9 1861.2L1604.4 1842.2L1604.9 1814.7L1605.4 1793.7L1605.9 1762.3L1606.1 1733.2L1610.7 1733.2L1610.7 1719.4L1613.3 1721.3L1613.3 1718.3L1618.2 1718.3L1618.2 1694L1621.4 1694L1621.4 1677.8L1624.2 1670.5L1624.2 1654.4L1629.6 1648.5L1629.6 1668.3L1632.4 1663.2L1632.4 1697.6L1637.7 1702.5L1637.7 1731L1640.9 1731L1640.9 1753.9L1644 1748.9L1644 1786.8L1649.2 1779.8L1649.4 1802.2L1649.9 1809.9L1650.4 1806.3L1650.9 1817.6L1651.4 1814L1651.9 1816.3L1652.4 1827.3L1652.9 1843.3L1653.4 1852.9L1653.9 1865.7L1654.4 1872.6L1654.9 1871.9L1655.4 1876L1655.9 1860.6L1656.4 1873.4L1656.5 1876M1665 1876L1665.5 1847.7L1666 1854.3L1666.5 1860.8L1667 1866.9L1667.5 1839.1L1668 1813.9L1668.5 1804.2L1669 1783.8L1669.5 1770.2L1670 1756.6L1670.5 1743L1671 1729.4L1671.5 1715.9L1671.7 1696.8L1675.5 1696.8L1675.5 1678.1L1680.5 1681.5L1680.5 1663L1685.2 1666.7L1685.2 1647.6L1690.6 1648.3L1690.6 1642.6L1693.1 1644.1L1693.1 1665.7L1697 1665.7L1697 1683.2L1697.5 1689.3L1698 1703.3L1698.5 1706.7L1699 1723.2L1699.5 1724.1L1700 1732.8L1700.5 1746.2L1701 1750.2L1701.5 1759L1702 1770.9L1702.5 1777.6L1703 1793.3L1703.5 1798.1L1704 1808.4L1704.5 1818.7L1705 1831.9L1705.5 1842L1706 1852.2L1706.5 1867.1L1707 1874.8L1707.5 1874L1708 1872.8L1708.5 1861.1L1709 1876M1715 1876L1715.5 1862.2L1716 1865.6L1716.5 1868.8L1717 1871.7L1717.5 1854.7L1718 1819.2L1718.5 1789.4L1719 1782.3L1719.5 1775.2L1719.6 1746L1724.9 1746L1725 1726.3L1725.5 1721.5L1726 1708.4L1726.5 1699.5L1727 1691.9L1727.5 1691.6L1728 1691.4L1728.5 1698.3L1729 1689.5L1729.5 1679.5L1730 1663L1730.3 1611.4L1733.6 1611.4L1733.6 1574.7L1737 1574.7L1737 1565.2L1741 1569.4L1741 1597.3L1744.7 1597.3L1744.7 1639.3L1748.5 1636.7L1748.5 1678L1751.2 1670.7L1751.2 1727.2L1756.5 1727.2L1756.5 1763.9L1761.6 1770.3L1762 1767.3L1762.5 1766L1763 1664.2L1763.5 1664.2L1764 1761.7L1764.5 1719.2L1765 1678.3L1765.5 1664.2L1765.8 1670.6L1769.4 1666.4L1769.5 1662L1770 1559.7L1770.5 1555.8L1771 1558.2L1771.5 1552.2L1772 1552L1772.5 1551.7L1773 1551.1L1773.5 1478L1774 1477.7L1774.5 1477.1L1775 1468.4L1775.5 1394.2L1776 1394.2L1776.5 1394.2L1777 1399.3L1777.5 1394.2L1778 1277.2L1778.5 1277.2L1779 1284.2L1779.5 1385.3L1780 1308.6L1780.5 1283.7L1781 1277.2L1781.5 1277.2L1782 1279.2L1782.5 1279.5L1783 1277.2L1783.5 1277.2L1784 1277L1784.5 1276.7L1785 1276.1L1785.5 1266.5L1786 1181.9L1786.5 1150.2L1787 1154.6L1787.5 994.1L1788 975.2L1788.5 953.2L1789 934.9L1789.5 913.4L1790 878.3L1790.5 806.7L1791 740L1791.5 723.3L1792 706.7L1792.5 688.5L1793 669.2L1793.5 650L1794 626.3L1794.5 602.5L1795 608.5L1795.5 634.5L1796 660L1796.5 685L1797 716L1797.5 785.7L1798 900L1798.5 1005.1L1799 1045.1L1799.5 1053.1L1800 1075L1800.5 1080L1801 1088.8L1801.5 1095.8L1802 1118.5L1802.5 1130.7L1803 1149.7L1803.5 1173L1804 1187.6L1804.5 1211.3L1805 1231L1805.5 1244.5L1806 1263.4L1806.5 1288.2L1807 1307.4L1807.5 1326.3L1808 1347.7L1808.5 1369.1L1809 1398.2L1809.3 1448.6L1813.3 1453L1813.5 1472.2L1814 1513L1814.5 1549.8L1815 1592.4L1815.5 1635L1816 1653.1L1816.3 1657.4L1821 1654.1L1821 1652L1825.4 1654L1825.5 1609.8L1826 1597.6L1826.5 1577.3L1827 1561.1L1827.5 1547.4L1828 1535.5L1828.5 1523.6L1829 1514.8L1829.5 1499.7L1830 1487.8L1830.5 1482.3L1831 1466.5L1831.5 1455.7L1832 1440L1832.5 1428.8L1835.5 1426.6L1835.5 1416.4L1838.6 1419.4L1838.6 1448.6L1842.8 1455.1L1843 1479.8L1843.5 1489.4L1844 1494.4L1844.5 1501.8L1845 1515.7L1845.5 1516.4L1846 1540.3L1846.5 1568.2L1847 1588L1847.5 1618.2L1848 1635.7L1848.5 1653L1849 1660.5L1849.5 1668L1850 1683.2L1850.5 1683L1851 1691.5L1851.5 1698L1852 1705.5L1852.5 1733.7L1853 1793L1853.5 1852.3L1854 1847.8L1854.5 1874.8L1855 1869.1L1855.5 1863.4L1855.9 1876M1858.2 1876L1858.7 1876L1859.2 1876L1859.7 1876L1860.2 1876L1860.7 1876L1861.2 1876L1861.7 1876L1862.2 1876L1862.7 1864.9L1863.2 1827.2L1863.7 1793.7L1864.2 1763.5L1864.7 1736.3L1865.2 1711.6L1865.7 1689L1866.2 1668.3L1866.7 1649.4L1867.2 1632L1867.7 1615.9L1868.2 1601L1868.7 1587.3L1869.1 1574.5L1869.6 1562.7L1870.1 1551.6L1870.6 1541.4L1871.1 1531.7L1871.6 1522.7L1872.1 1518.2L1872.6 1506.4L1873.1 1499L1873.6 1492.1L1874.1 1487.6L1874.6 1481.8L1875.1 1473.9L1875.6 1468.6L1876.1 1463.9L1876.6 1459.5L1877.1 1457.6L1877.6 1452.2L1878.1 1449.3L1878.6 1452.1L1879.1 1451.7L1879.6 1453.1L1880.1 1456.2L1880.6 1459.4L1881.1 1462.7L1881.6 1469.2L1882.1 1469.3L1882.6 1472.3L1883.1 1475L1883.6 1477.3L1884.1 1479.3L1884.6 1487.5L1885.1 1482.9L1885.6 1486.3L1886.1 1491.4L1886.6 1495.2L1887.1 1497.4L1887.6 1511L1888.1 1513.9L1888.6 1524.9L1889.1 1537.7L1889.6 1551.8L1890.1 1567L1890.6 1583L1891.1 1599.6L1891.6 1616.6L1892.1 1634.1L1892.6 1652.1L1893.1 1670.8L1893.6 1690.4L1894.1 1711.2L1894.6 1733.3L1895 1757.2L1895.5 1783.1L1896 1811.4L1896.5 1842.6L1897 1876L1897.5 1876L1898 1876L1898.5 1876L1899 1876L1899.5 1876L1900 1876L1900.5 1876L1901 1876L1901.5 1876L1902 1876M1901.4 1876L1901.9 1876L1902.4 1876L1902.9 1876L1903.4 1876L1903.9 1876L1904.4 1876L1904.9 1876L1905.4 1876L1905.9 1876L1906.4 1864.6L1906.9 1831.1L1907.4 1801.1L1907.9 1774L1908.4 1749.4L1908.9 1726.9L1909.4 1706.4L1909.9 1687.6L1910.4 1670.3L1910.9 1654.3L1911.4 1639.6L1911.9 1625.9L1912.4 1613.3L1912.9 1601.5L1913.4 1590.6L1913.9 1580.3L1914.4 1570.8L1914.9 1567.9L1915.4 1559.7L1915.9 1545.8L1916.4 1538.5L1916.9 1531.6L1917.4 1525.3L1917.9 1521.3L1918.4 1513.9L1918.9 1512.3L1919.4 1504.3L1919.9 1500.2L1920.4 1500L1920.9 1497.2L1921.4 1494.2L1921.9 1493.2L1922.4 1495.9L1922.9 1498.9L1923.4 1505L1923.9 1505.4L1924.4 1508.8L1924.9 1517.8L1925.4 1517.6L1925.9 1521.8L1926.4 1520.3L1926.9 1522.4L1927.4 1524.2L1927.9 1526L1928.4 1528.1L1928.9 1530.8L1929.4 1534.6L1929.9 1539.9L1930.4 1547L1930.9 1555.9L1931.4 1566.7L1931.9 1579.3L1932.4 1593.3L1932.9 1608.5L1933.4 1624.5L1933.9 1641.1L1934.4 1658.2L1934.9 1675.7L1935.4 1693.8L1935.9 1712.5L1936.4 1732.1L1936.9 1752.8L1937.4 1775L1937.9 1798.9L1938.4 1824.8L1938.9 1853L1939.4 1876L1939.9 1876L1940.4 1876L1940.9 1876L1941.4 1876L1941.9 1876L1942.4 1876L1942.9 1876L1943.4 1876L1943.9 1876L1944.4 1876L1944.9 1876M1946.9 1876L1947.4 1876L1947.9 1876L1948.4 1876L1948.9 1876L1949.4 1876L1949.9 1876L1950.4 1876L1950.9 1876L1951.4 1876L1951.9 1876L1952.4 1869.3L1952.8 1839.2L1953.3 1811.8L1953.8 1786.4L1954.3 1762.6L1954.8 1740L1955.3 1718.1L1955.8 1696.7L1956.3 1676.1L1956.8 1656.3L1957.3 1638L1957.8 1621.8L1958.3 1608.1L1958.8 1597.2L1959.3 1589.2L1959.8 1583.6L1960.3 1585.2L1960.8 1576.8L1961.3 1574.3L1961.8 1571.6L1962.3 1571.4L1962.8 1565L1963.3 1565.3L1963.8 1561.9L1964.3 1553.5L1964.8 1553L1965.3 1550L1965.8 1545.4L1966.3 1550.2L1966.8 1548.1L1967.3 1551L1967.8 1559.5L1968.3 1557.7L1968.8 1561.4L1969.2 1569.2L1969.7 1572.3L1970.2 1573.7L1970.7 1578.2L1971.2 1582.9L1971.7 1587.8L1972.2 1596.3L1972.7 1598.2L1973.2 1603.8L1973.7 1609.6L1974.2 1615.8L1974.7 1622.2L1975.2 1629.1L1975.7 1636.4L1976.2 1644.1L1976.7 1652.4L1977.2 1661.2L1977.7 1670.5L1978.2 1680.6L1978.7 1691.3L1979.2 1702.8L1979.7 1715.2L1980.2 1728.4L1980.7 1742.6L1981.2 1757.8L1981.7 1774.2L1982.2 1791.8L1982.7 1810.8L1983.2 1831.3L1983.7 1853.5L1984.2 1876L1984.7 1876L1985.1 1876L1985.6 1876L1986.1 1876L1986.6 1876L1987.1 1876L1987.6 1876L1988.1 1876L1988.6 1876L1989.1 1876L1989.6 1876L1990.1 1876L1990.6 1876L1991.1 1876M1989 1876L1989.5 1876L1990 1876L1990.5 1876L1991 1876L1991.5 1876L1992 1876L1992.5 1876L1993 1876L1993.5 1876L1994 1876L1994.5 1876L1995 1860.7L1995.5 1832.4L1996 1806.4L1996.5 1782.6L1997 1760.4L1997.5 1739.6L1998 1720.1L1998.5 1701.4L1999 1683.4L1999.5 1665.9L2000 1648.8L2000.5 1632.2L2001 1616.2L2001.5 1601L2002 1586.9L2002.5 1574.2L2002.9 1563.1L2003.4 1553.9L2003.9 1546.6L2004.4 1541.1L2004.9 1543.3L2005.4 1537.5L2005.9 1537.6L2006.4 1531.7L2006.9 1528.5L2007.4 1532L2007.9 1524.2L2008.4 1521.5L2008.9 1524.3L2009.4 1515.2L2009.9 1511.9L2010.4 1510.2L2010.9 1505.3L2011.4 1502.3L2011.9 1503.9L2012.4 1497.1L2012.9 1503.3L2013.4 1501.6L2013.9 1506.3L2014.4 1512.9L2014.9 1514.1L2015.4 1520.7L2015.9 1525.3L2016.4 1531.6L2016.9 1538.5L2017.4 1546L2017.9 1554L2018.4 1562.6L2018.8 1571.9L2019.3 1581.9L2019.8 1592.6L2020.3 1604.1L2020.8 1616.5L2021.3 1629.8L2021.8 1644.3L2022.3 1659.9L2022.8 1676.9L2023.3 1695.4L2023.8 1715.6L2024.3 1737.7L2024.8 1762L2025.3 1788.7L2025.8 1818.4L2026.3 1851.5L2026.8 1876L2027.3 1876L2027.8 1876L2028.3 1876L2028.8 1876L2029.3 1876L2029.8 1876L2030.3 1876L2030.8 1876L2031.3 1876M2031 1876L2031.5 1876L2032 1876L2032.5 1876L2033 1876L2033.5 1876L2034 1876L2034.5 1876L2035 1876L2035.5 1876L2035.9 1876L2036.4 1876L2036.9 1876L2037.4 1875.5L2037.9 1849.7L2038.4 1825.9L2038.9 1803.8L2039.4 1783L2039.9 1763.4L2040.4 1744.6L2040.9 1726.5L2041.4 1708.9L2041.9 1691.7L2042.4 1675L2042.9 1658.9L2043.4 1643.9L2043.9 1630.1L2044.4 1617.9L2044.9 1607.6L2045.4 1599.2L2045.9 1597.5L2046.4 1588L2046.9 1584.5L2047.4 1582.1L2047.9 1585.3L2048.4 1578.3L2048.9 1579.2L2049.4 1574L2049.9 1571.4L2050.4 1568.4L2050.8 1565.1L2051.3 1561.8L2051.8 1558.4L2052.3 1555.1L2052.8 1552L2053.3 1549.2L2053.8 1546.7L2054.3 1547.5L2054.8 1550.3L2055.3 1553.5L2055.8 1557.2L2056.3 1561.2L2056.8 1569.2L2057.3 1570.6L2057.8 1575.8L2058.3 1581.4L2058.8 1587.3L2059.3 1593.7L2059.8 1600.4L2060.3 1607.6L2060.8 1617.9L2061.3 1627.1L2061.8 1631.9L2062.3 1641.1L2062.8 1650.9L2063.3 1661.4L2063.8 1672.6L2064.3 1684.7L2064.8 1697.7L2065.2 1711.7L2065.7 1726.8L2066.2 1743.2L2066.7 1760.9L2067.2 1780.1L2067.7 1801.1L2068.2 1824L2068.7 1849L2069.2 1876L2069.7 1876L2070.2 1876L2070.7 1876L2071.2 1876L2071.7 1876L2072.2 1876L2072.7 1876L2073.2 1876L2073.7 1876L2074.2 1876L2074.7 1876L2075.2 1876M2075.5 1876L2076 1876L2076.5 1876L2077 1876L2077.5 1876L2078 1876L2078.5 1876L2079 1876L2079.5 1876L2080 1876L2080.5 1876L2081 1876L2081.5 1857.3L2082 1829.2L2082.5 1803.5L2083 1779.6L2083.5 1757.4L2084 1736.3L2084.4 1716.1L2084.9 1696.4L2085.4 1677.1L2085.9 1658.1L2086.4 1639.4L2086.9 1621.3L2087.4 1604.1L2087.9 1588.3L2088.4 1574.4L2088.9 1562.8L2089.4 1553.8L2089.9 1547.2L2090.4 1542.9L2090.9 1540.4L2091.4 1539L2091.9 1538.3L2092.4 1537.6L2092.9 1536.6L2093.4 1535.1L2093.9 1533L2094.4 1530.4L2094.9 1527.4L2095.4 1524.2L2095.9 1520.9L2096.4 1517.7L2096.8 1514.8L2097.3 1512.1L2097.8 1510.1L2098.3 1512.7L2098.8 1515.9L2099.3 1519.6L2099.8 1523.9L2100.3 1528.8L2100.8 1534.2L2101.3 1540.1L2101.8 1546.6L2102.3 1553.5L2102.8 1561L2103.3 1569.1L2103.8 1577.8L2104.3 1587.1L2104.8 1597.1L2105.3 1607.9L2105.8 1619.4L2106.3 1631.8L2106.8 1645.3L2107.3 1659.8L2107.8 1675.5L2108.3 1692.5L2108.7 1711.1L2109.2 1731.3L2109.7 1753.4L2110.2 1777.7L2110.7 1804.5L2111.2 1834.3L2111.7 1867.4L2112.2 1876L2112.7 1876L2113.2 1876L2113.7 1876L2114.2 1876L2114.7 1876L2115.2 1876L2115.7 1876L2116.2 1876L2116.7 1876M2118.5 1876L2119 1876L2119.5 1876L2120 1876L2120.5 1876L2121 1876L2121.5 1876L2122 1876L2122.5 1876L2123 1876L2123.5 1876L2124 1876L2124.5 1876L2125 1872.4L2125.5 1846.2L2126 1822L2126.5 1799.5L2127 1778.4L2127.5 1758.6L2128 1739.7L2128.5 1721.5L2129 1703.8L2129.5 1686.5L2130 1669.4L2130.5 1652.6L2131 1636.2L2131.5 1620.3L2132 1605.4L2132.5 1591.7L2133 1579.6L2133.5 1569.3L2134 1561.1L2134.4 1555L2134.9 1550.7L2135.4 1548.1L2135.9 1546.6L2136.4 1545.9L2136.9 1545.6L2137.4 1545.2L2137.9 1544.5L2138.4 1543.3L2138.9 1541.6L2139.4 1539.5L2139.9 1536.9L2140.4 1534.1L2140.9 1531L2141.4 1528L2141.9 1525L2142.4 1522.1L2142.9 1519.5L2143.4 1517.1L2143.9 1519.1L2144.4 1522.3L2144.9 1526.1L2145.4 1530.6L2145.9 1535.8L2146.4 1541.5L2146.9 1547.9L2147.4 1554.9L2147.9 1562.5L2148.4 1570.7L2148.9 1579.7L2149.4 1589.3L2149.9 1599.7L2150.4 1611L2150.9 1623.1L2151.4 1636.2L2151.9 1650.4L2152.4 1665.7L2152.9 1682.5L2153.4 1700.7L2153.9 1720.6L2154.4 1742.3L2154.9 1766.3L2155.4 1792.7L2155.9 1822.1L2156.4 1854.9L2156.9 1876L2157.4 1876L2157.9 1876L2158.4 1876L2158.9 1876L2159.4 1876L2159.9 1876L2160.4 1876L2160.9 1876L2161.4 1876M2161.1 1876L2161.6 1876L2162.1 1876L2162.6 1876L2163.1 1876L2163.6 1876L2164.1 1876L2164.6 1876L2165.1 1876L2165.6 1876L2166.1 1876L2166.6 1876L2167.1 1876L2167.6 1872.6L2168.1 1846.6L2168.6 1822.7L2169.1 1800.4L2169.6 1779.4L2170.1 1759.4L2170.6 1740.2L2171.1 1721.5L2171.6 1703.1L2172.1 1684.9L2172.6 1667.1L2173.1 1649.8L2173.6 1633.4L2174.1 1618.2L2174.6 1604.8L2175.1 1593.5L2175.6 1584.4L2176.1 1577.7L2176.6 1573.2L2177.1 1570.4L2177.6 1568.8L2178.1 1568.1L2178.6 1567.5L2179.1 1566.8L2179.6 1565.8L2180.1 1564.1L2180.6 1562L2181.1 1559.3L2181.6 1556.4L2182.1 1553.2L2182.6 1550L2183.1 1546.9L2183.5 1544L2184 1541.3L2184.5 1539.5L2185 1542L2185.5 1544.9L2186 1548.2L2186.5 1552L2187 1556.1L2187.5 1560.5L2188 1565.3L2188.5 1570.5L2189 1575.9L2189.5 1581.7L2190 1587.8L2190.5 1594.3L2191 1601.1L2191.5 1608.4L2192 1616.1L2192.5 1624.3L2193 1633L2193.5 1642.3L2194 1652.2L2194.5 1662.8L2195 1674.2L2195.5 1686.5L2196 1699.7L2196.5 1713.9L2197 1729.2L2197.5 1745.8L2198 1763.8L2198.5 1783.2L2199 1804.4L2199.5 1827.5L2200 1852.8L2200.5 1876L2201 1876L2201.5 1876L2202 1876L2202.5 1876L2203 1876L2203.5 1876L2204 1876L2204.5 1876L2205 1876L2205.5 1876L2206 1876L2206.5 1876M2203.8 1876L2204.3 1876L2204.8 1876L2205.3 1876L2205.8 1876L2206.3 1876L2206.8 1876L2207.3 1876L2207.8 1876L2208.3 1876L2208.8 1876L2209.2 1876L2209.7 1876L2210.2 1866.3L2210.7 1840.9L2211.2 1817.7L2211.7 1796.4L2212.2 1776.8L2212.7 1758.7L2213.2 1742L2213.7 1726.6L2214.2 1712.2L2214.7 1698.9L2215.2 1686.6L2215.7 1675L2216.2 1664.3L2216.7 1654.3L2217.2 1644.9L2217.7 1636.1L2218.2 1627.8L2218.6 1620L2219.1 1612.7L2219.6 1605.8L2220.1 1599.2L2220.6 1593L2221.1 1587.2L2221.6 1581.6L2222.1 1576.4L2222.6 1571.5L2223.1 1566.9L2223.6 1562.6L2224.1 1558.7L2224.6 1555.1L2225.1 1551.9L2225.6 1549.1L2226.1 1547.3L2226.6 1549.7L2227.1 1552.3L2227.6 1555.1L2228.1 1558.1L2228.5 1561.1L2229 1564.1L2229.5 1566.9L2230 1569.5L2230.5 1571.6L2231 1573.3L2231.5 1574.6L2232 1575.3L2232.5 1575.7L2233 1576L2233.5 1576.6L2234 1577.7L2234.5 1579.8L2235 1583.4L2235.5 1588.7L2236 1596L2236.5 1605.2L2237 1616.3L2237.5 1629.1L2237.9 1643.3L2238.4 1658.4L2238.9 1674.3L2239.4 1690.6L2239.9 1707.2L2240.4 1724L2240.9 1741.1L2241.4 1758.6L2241.9 1776.7L2242.4 1795.6L2242.9 1815.4L2243.4 1836.5L2243.9 1859L2244.4 1876L2244.9 1876L2245.4 1876L2245.9 1876L2246.4 1876L2246.9 1876L2247.3 1876L2247.8 1876L2248.3 1876L2248.8 1876L2249.3 1876L2249.8 1876L2250.3 1876L2250.8 1876L2251.3 1876M2247 1876L2247.5 1876L2248 1876L2248.5 1876L2249 1876L2249.5 1876L2250 1876L2250.5 1876L2251 1876L2251.5 1876L2252 1876L2252.5 1876L2253 1876L2253.5 1876L2254 1862.2L2254.5 1838.1L2255 1815.8L2255.5 1794.8L2256 1774.9L2256.4 1755.9L2256.9 1737.4L2257.4 1719.3L2257.9 1701.4L2258.4 1683.8L2258.9 1666.6L2259.4 1650.1L2259.9 1634.5L2260.4 1620.4L2260.9 1608L2261.4 1597.8L2261.9 1589.7L2262.4 1583.9L2262.9 1580L2263.4 1577.7L2263.9 1576.4L2264.4 1575.8L2264.9 1575.3L2265.4 1574.6L2265.9 1573.5L2266.3 1571.9L2266.8 1569.7L2267.3 1567.1L2267.8 1564.2L2268.3 1561.1L2268.8 1557.9L2269.3 1554.9L2269.8 1552L2270.3 1549.3L2270.8 1547L2271.3 1549.4L2271.8 1552.2L2272.3 1555.3L2272.8 1558.7L2273.3 1562.4L2273.8 1566.4L2274.3 1570.7L2274.8 1575.2L2275.3 1579.9L2275.7 1584.9L2276.2 1590.1L2276.7 1595.6L2277.2 1601.4L2277.7 1607.4L2278.2 1613.8L2278.7 1620.5L2279.2 1627.6L2279.7 1635.2L2280.2 1643.2L2280.7 1651.7L2281.2 1660.8L2281.7 1670.5L2282.2 1680.9L2282.7 1692L2283.2 1703.9L2283.7 1716.8L2284.2 1730.5L2284.7 1745.3L2285.2 1761.3L2285.6 1778.5L2286.1 1797.1L2286.6 1817.1L2287.1 1838.9L2287.6 1862.6L2288.1 1876L2288.6 1876L2289.1 1876L2289.6 1876L2290.1 1876L2290.6 1876L2291.1 1876L2291.6 1876L2292.1 1876L2292.6 1876L2293.1 1876L2293.6 1876L2294.1 1876L2294.6 1876M2289.2 1876L2289.6 1876L2290.1 1876L2290.6 1876L2291.1 1876L2291.6 1876L2292.1 1876L2292.6 1876L2293.1 1876L2293.6 1876L2294.1 1876L2294.6 1876L2295.1 1876L2295.6 1876L2296.1 1876L2296.6 1876L2297.1 1876L2297.6 1860.7L2298.1 1840.5L2298.6 1821.5L2299.1 1803.4L2299.6 1786.2L2300.1 1769.5L2300.6 1753.3L2301.1 1737.4L2301.6 1721.8L2302.1 1706.3L2302.6 1690.9L2303.1 1675.7L2303.6 1660.9L2304.1 1646.5L2304.6 1633L2305.1 1620.5L2305.6 1609.3L2306.1 1599.6L2306.6 1591.7L2307.1 1585.5L2307.6 1581.1L2308.1 1578.3L2308.6 1576.9L2309.1 1576.5L2309.6 1576.8L2310.1 1577.4L2310.6 1578.1L2311.1 1578.7L2311.6 1578.8L2312.1 1578.5L2312.6 1577.7L2313.1 1576.3L2313.6 1574.5L2314.1 1572.4L2314.6 1569.9L2315.1 1567.3L2315.6 1564.5L2316.1 1561.7L2316.6 1559L2317.1 1556.4L2317.6 1554L2318.1 1553.5L2318.6 1556.4L2319.1 1559.9L2319.6 1564.2L2320.1 1569.1L2320.6 1574.6L2321.1 1580.8L2321.6 1587.6L2322.1 1595.1L2322.6 1603.2L2323.1 1612.1L2323.6 1621.6L2324.1 1632L2324.6 1643.1L2325.1 1655.2L2325.6 1668.2L2326.1 1682.3L2326.6 1697.6L2327.1 1714.3L2327.6 1732.4L2328.1 1752.2L2328.6 1773.9L2329.1 1797.8L2329.6 1824.2L2330.1 1853.4L2330.6 1876L2331.1 1876L2331.6 1876L2332.1 1876L2332.6 1876L2333.1 1876L2333.6 1876L2334.1 1876L2334.6 1876L2335 1876L2335.5 1876M2333 1876L2333.5 1876L2334 1876L2334.5 1876L2335 1876L2335.4 1876L2335.9 1876L2336.4 1876L2336.9 1876L2337.4 1876L2337.9 1876L2338.4 1876L2338.9 1876L2339.4 1876L2339.9 1876L2340.4 1853.9L2340.9 1831.2L2341.4 1810L2341.9 1790.1L2342.4 1771.2L2342.9 1753.3L2343.4 1736L2343.9 1719.2L2344.4 1702.8L2344.9 1686.6L2345.4 1670.7L2345.9 1655L2346.4 1639.8L2346.8 1625.2L2347.3 1611.5L2347.8 1599L2348.3 1588L2348.8 1578.7L2349.3 1571.2L2349.8 1565.6L2350.3 1561.6L2350.8 1559.1L2351.3 1557.7L2351.8 1557.1L2352.3 1556.8L2352.8 1556.6L2353.3 1556.2L2353.8 1555.5L2354.3 1554.2L2354.8 1552.5L2355.3 1550.4L2355.8 1547.9L2356.3 1545.2L2356.8 1542.3L2357.3 1539.3L2357.8 1536.4L2358.3 1533.6L2358.7 1531L2359.2 1528.6L2359.7 1529.6L2360.2 1532.6L2360.7 1536.1L2361.2 1540.3L2361.7 1545L2362.2 1550.2L2362.7 1556L2363.2 1562.4L2363.7 1569.3L2364.2 1576.7L2364.7 1584.7L2365.2 1593.3L2365.7 1602.6L2366.2 1612.5L2366.7 1623.2L2367.2 1634.7L2367.7 1647.1L2368.2 1660.5L2368.7 1674.9L2369.2 1690.6L2369.7 1707.6L2370.2 1726.1L2370.6 1746.2L2371.1 1768.3L2371.6 1792.6L2372.1 1819.3L2372.6 1849L2373.1 1876L2373.6 1876L2374.1 1876L2374.6 1876L2375.1 1876L2375.6 1876L2376.1 1876L2376.6 1876L2377.1 1876L2377.6 1876L2378.1 1876M2377.6 1876L2378.1 1876L2378.6 1876L2379.1 1876L2379.6 1876L2380.1 1876L2380.6 1876L2381.1 1876L2381.6 1876L2382.1 1876L2382.6 1876L2383.1 1876L2383.6 1876L2384.1 1858.4L2384.6 1832.4L2385.1 1808.4L2385.6 1786L2386.1 1765L2386.6 1745.1L2387.1 1726L2387.6 1707.5L2388.1 1689.4L2388.6 1671.5L2389.1 1653.9L2389.6 1636.7L2390.1 1620.2L2390.6 1604.7L2391.1 1590.6L2391.6 1578.3L2392.1 1568.2L2392.6 1560.2L2393.1 1554.5L2393.6 1550.7L2394.1 1548.5L2394.6 1547.3L2395.1 1546.7L2395.6 1546.2L2396.1 1545.5L2396.6 1544.4L2397.1 1542.7L2397.6 1540.5L2398.1 1537.9L2398.6 1535L2399.1 1531.9L2399.6 1528.7L2400.1 1525.6L2400.6 1522.7L2401.1 1520.1L2401.6 1518.1L2402.1 1520.7L2402.6 1523.9L2403.1 1527.6L2403.6 1532L2404.1 1536.8L2404.6 1542.2L2405.1 1548.2L2405.6 1554.6L2406.1 1561.6L2406.6 1569.1L2407.1 1577.1L2407.6 1585.8L2408.1 1595.1L2408.6 1605.1L2409.1 1615.8L2409.6 1627.3L2410.1 1639.7L2410.6 1653.1L2411.1 1667.6L2411.6 1683.3L2412.1 1700.3L2412.6 1718.8L2413.1 1739.1L2413.6 1761.2L2414.1 1785.5L2414.6 1812.3L2415.1 1842L2415.6 1875.1L2416.1 1876L2416.6 1876L2417.1 1876L2417.6 1876L2418.1 1876L2418.6 1876L2419.1 1876L2419.6 1876L2420.1 1876L2420.6 1876M2421.2 1876L2421.7 1876L2422.2 1876L2422.7 1876L2423.2 1876L2423.7 1876L2424.2 1876L2424.7 1876L2425.2 1876L2425.7 1876L2426.2 1876L2426.7 1876L2427.2 1876L2427.7 1867.3L2428.2 1841.5L2428.7 1817.6L2429.2 1795.4L2429.7 1774.3L2430.2 1754.3L2430.7 1734.8L2431.2 1715.8L2431.7 1697.1L2432.2 1678.6L2432.7 1660.6L2433.2 1643.3L2433.7 1627.1L2434.2 1612.6L2434.7 1600.1L2435.2 1590L2435.7 1582.3L2436.2 1577L2436.6 1573.6L2437.1 1571.8L2437.6 1570.8L2438.1 1570.2L2438.6 1569.5L2439.1 1568.4L2439.6 1566.7L2440.1 1564.5L2440.6 1561.9L2441.1 1558.9L2441.6 1555.6L2442.1 1552.4L2442.6 1549.3L2443.1 1546.4L2443.6 1543.7L2444.1 1542.4L2444.6 1545L2445.1 1547.9L2445.6 1551.2L2446.1 1554.9L2446.6 1559L2447.1 1563.3L2447.6 1568L2448.1 1572.9L2448.6 1578.2L2449.1 1583.8L2449.6 1589.7L2450.1 1595.9L2450.6 1602.4L2451.1 1609.4L2451.6 1616.7L2452.1 1624.5L2452.6 1632.8L2453.1 1641.6L2453.6 1651L2454.1 1661.1L2454.6 1671.8L2455 1683.4L2455.5 1695.8L2456 1709.1L2456.5 1723.5L2457 1739L2457.5 1755.8L2458 1773.9L2458.5 1793.6L2459 1814.9L2459.5 1838.2L2460 1863.7L2460.5 1876L2461 1876L2461.5 1876L2462 1876L2462.5 1876L2463 1876L2463.5 1876L2464 1876L2464.5 1876L2465 1876L2465.5 1876L2466 1876L2466.5 1876" stroke="#0072bd" stroke-width="4.5" fill="none" stroke-linejoin="round" stroke-linecap="butt"/></g><g clip-path="url(#clipax)"><path d="M675 1597L676 1584L677 1574.2L678 1564L679 1557.6L680 1548.4L681 1546.8L682 1549.2L683 1557.3L684 1561.2L685 1570L686 1571.2L687 1577L688 1577L689 1586.8L689 1594.5L689 1594.5L689 1592.2L685 1592.2L685 1595.5L682 1595.5L682 1594.8L678 1594.8L678 1622.9L675 1622.9ZM689 1586.8L690.1 1591.8L691.2 1603.7L692.4 1625.9L693.5 1655.5L694.6 1668L694.6 1671L693.5 1671L693.5 1667.6L689 1667.6ZM721 1542L722 1528.2L723.1 1520.7L724.1 1507.9L725.2 1501.8L726.2 1504.8L727.3 1514.9L728.4 1518L729.4 1525.7L730.5 1531.2L731.5 1539.1L732.6 1539L733.6 1544.7L733.6 1569.5L733.6 1569.5L733.6 1584.3L730.5 1584.3L730.5 1585.8L727.3 1585.8L727.3 1577.1L724.1 1577.1L724.1 1594L721 1594ZM761 1558.2L762 1544.4L763 1526.9L764 1516.7L765 1506.3L766 1498.7L767 1489.1L768 1482.4L769 1479.7L770 1485L771 1488.5L772 1496L773 1506.4L774 1513L775 1520L776 1523L777 1541.8L777 1585.1L774 1585.1L774 1595.5L769 1595.5L769 1586.6L764 1586.6L764 1570.7L761 1570.7ZM777 1541.8L778 1571.1L779 1607.5L780 1647.6L781 1677L781 1680L781 1680L781 1694.2L777 1694.2ZM803 1519L804 1506L805 1494.4L806 1483.9L807 1474.5L808 1467L809 1459.6L810 1458.2L811 1459.9L812 1469.2L813 1472.7L814 1478.8L815 1483.6L816 1490.9L817 1493L818 1500.3L819 1504.4L820 1523.4L821 1549.4L821 1593.6L820 1593.6L820 1604.7L815 1604.7L815 1575.9L810 1575.9L810 1582.4L807 1582.4L807 1577.5L803 1577.5ZM798 1614.4L799 1589.8L800 1568.9L801 1553.2L802 1537.4L803 1519L804 1506L805 1494.4L805 1650.3L805 1650.3L805 1662.6L802 1662.6L802 1672.1L798 1672.1ZM811 1459.9L812 1469.2L813 1472.7L814 1478.8L815 1483.6L816 1490.9L817 1493L818 1500.3L819 1504.4L820 1523.4L821 1549.4L822 1571.2L823 1601.6L824 1627L824 1638.2L823 1638.2L823 1646.2L818 1646.2L818 1619.6L814 1619.6L814 1646.7L811 1646.7ZM820 1523.4L821 1549.4L822 1571.2L823 1601.6L824 1635.9L825 1669.6L826 1700L826 1703L825 1703L825 1700.8L820 1700.8ZM831.5 1669.2L832.5 1669.2L833.5 1670.9L834.5 1670.4L835.5 1669.9L836.5 1669.4L837.5 1670.3L838.5 1456.2L839.5 1672.3L840.5 1460L840.5 1876L839.5 1876L838.5 1876L837.5 1876L836.5 1876L835.5 1876L834.5 1876L833.5 1876L832.5 1876L831.5 1876ZM838 1463.9L839 1456.2L840 1541.6L841 1461.1L842 1459.1L843 1463.5L844 1461.2L845 1458L845 1699.7L843 1699.7L843 1726.2L838 1726.2ZM845 1458L846 1359L847 1329.2L848 1329.2L849 1328.7L850 1324L851 1291L852 1239.8L852 1615.4L852 1615.4L852 1597.1L849 1597.1L849 1621.5L845 1621.5ZM852 1239.8L853 1241.1L854 1242.5L855 1243.8L856 1214L856 1639.5L856 1639.5L856 1641.2L852 1641.2ZM856 1214L857 1143.9L858 1102.4L859 984L860 946.9L861 887.5L862 806.7L862 1614.5L861 1614.5L861 1613.5L856 1613.5ZM869 811.7L870.1 978.5L871.2 1073L872.4 1096.2L873.5 1103.6L874.6 1206.8L875.7 1303.7L875.7 1590.9L874.6 1590.9L874.6 1591.5L871.2 1591.5L871.2 1589.9L869 1589.9ZM874.5 1192.3L875.6 1303.3L876.8 1302.5L877.9 1311.4L879 1313.9L879 1665.8L876.8 1665.8L876.8 1662L874.5 1662ZM879 1313.9L880 1392.9L881 1453.5L882 1468.8L883 1483.5L884 1500.8L885 1533.3L886 1608L887 1732L888 1733.9L888 1876L887 1876L886 1876L885 1876L884 1876L883 1876L882 1876L881 1876L880 1876L879 1876ZM879 1313.9L880 1392.9L881 1453.5L882 1468.8L883 1483.5L884 1500.8L885 1533.3L886 1608L887 1732L888 1733.9L889 1734.2L890 1734.2L891 1734.2L892 1734.2L893 1735.3L894 1734.7L894 1876L893 1876L892 1876L891 1876L890 1876L889 1876L888 1876L887 1876L886 1876L885 1876L884 1876L883 1876L882 1876L881 1876L880 1876L879 1876ZM895.5 1735.3L896.5 1719.4L897.6 1670.7L898.6 1648.6L899.6 1631.3L900.6 1615.7L901.7 1599.9L902.7 1585.7L902.7 1876L901.7 1876L900.6 1876L899.6 1876L898.6 1876L897.6 1876L896.5 1876L895.5 1876ZM902.7 1585.7L903.9 1575.4L905.1 1550.7L906.3 1550.7L906.3 1851L906.3 1851L906.3 1818.4L902.7 1818.4ZM906.3 1550.7L907.3 1533.7L908.3 1533.7L909.3 1533.7L910.4 1538.2L911.4 1538.9L912.4 1539.6L913.4 1540.3L913.4 1744L911.4 1744L911.4 1739L906.3 1739ZM913.4 1540.3L914.6 1541.1L915.8 1563.3L917 1580.9L917 1828.7L917 1828.7L917 1808L913.4 1808ZM917 1580.9L918 1596.3L919 1611.8L920 1628.6L921 1667.2L922 1668.2L923 1669.1L923 1766.3L922 1766.3L922 1768.3L917 1768.3ZM923 1669.1L924 1704.3L925 1731.6L926 1745.9L927 1771L928 1785L929 1802.3L930 1800.1L931 1797.9L932 1822.9L933 1821.4L934 1820L935 1818.5L936 1817.1L937 1838.6L938 1839.6L939 1840.7L940 1848.6L941 1851.2L942 1853.6L942 1876L941 1876L940 1876L939 1876L938 1876L937 1876L936 1876L935 1876L934 1876L933 1876L932 1876L931 1876L930 1876L929 1876L928 1876L927 1876L926 1876L925 1876L924 1876L923 1876ZM943.2 1850.8L944.2 1853.2L945.3 1856.2L946.4 1856.3L947.4 1843.9L948.5 1797.9L949.5 1750L950.6 1713.1L951.6 1688L951.6 1876L950.6 1876L949.5 1876L948.5 1876L947.4 1876L946.4 1876L945.3 1876L944.2 1876L943.2 1876ZM948 1807.5L949 1770.5L950.1 1724.3L951.1 1703.8L952.2 1686.2L953.2 1683.1L954.3 1637.1L955.4 1637.9L956.4 1638.7L956.4 1809.7L953.2 1809.7L953.2 1819.6L948 1819.6ZM956.4 1638.7L957.4 1639.5L958.5 1619.5L959.5 1620.2L960.5 1620.8L961.6 1632.5L962.6 1631.7L963.7 1630.9L964.7 1630.2L964.7 1766.9L964.7 1766.9L964.7 1787L959.5 1787L959.5 1768.2L956.4 1768.2ZM964.7 1630.2L965.9 1646.1L967.1 1643.5L968.3 1659.2L968.3 1701.2L967.1 1701.2L967.1 1691.7L964.7 1691.7ZM968.3 1659.2L969.5 1658L970.6 1656.8L971.8 1677.2L973 1674.3L973 1720.1L973 1720.1L973 1740.4L968.3 1740.4ZM973 1674.3L974 1671.6L975.1 1706.4L976.1 1705.5L977.2 1704.6L978.2 1735L979.2 1735L980.3 1735L981.3 1735L982.4 1773.4L983.4 1826.4L984.5 1857L985.5 1857L985.5 1876L984.5 1876L983.4 1876L982.4 1876L981.3 1876L980.3 1876L979.2 1876L978.2 1876L977.2 1876L976.1 1876L975.1 1876L974 1876L973 1876ZM997.2 1857L998.2 1857L999.2 1857L1000.2 1817.2L1001.2 1781.7L1002.2 1777.4L1003.2 1778.6L1004.3 1779.8L1005.3 1781L1006.3 1756.6L1007.3 1757.1L1008.3 1757.7L1009.3 1758.2L1010.3 1741.1L1010.3 1876L1009.3 1876L1008.3 1876L1007.3 1876L1006.3 1876L1005.3 1876L1004.3 1876L1003.2 1876L1002.2 1876L1001.2 1876L1000.2 1876L999.2 1876L998.2 1876L997.2 1876ZM1010.3 1738L1011.3 1738L1012.3 1738L1013.3 1700.2L1014.4 1700.2L1015.4 1700.2L1016.4 1700.2L1017.4 1655.8L1017.4 1734.9L1017.4 1734.9L1017.4 1738.5L1013.3 1738.5L1013.3 1741L1010.3 1741ZM1017.4 1655.8L1018.5 1655.4L1019.5 1654.9L1020.6 1654.5L1021.7 1637L1022.7 1637L1023.8 1637L1024.9 1652.3L1025.9 1653.2L1027 1654.1L1027 1773.9L1027 1773.9L1027 1771.3L1022.7 1771.3L1022.7 1770.5L1017.4 1770.5ZM1027 1654.1L1028 1654.9L1029 1655.8L1030 1688.2L1031 1688.2L1032 1688.2L1033 1688.2L1033 1742.4L1030 1742.4L1030 1731.3L1027 1731.3ZM1033 1688.2L1034 1688.2L1035 1719.7L1036 1720.3L1037.1 1720.9L1038.1 1721.6L1039.1 1722.2L1040.1 1736.4L1040.1 1781.6L1038.1 1781.6L1038.1 1787L1033 1787ZM1040.1 1736.4L1041.2 1736L1042.2 1735.6L1043.3 1735.2L1044.4 1734.8L1045.5 1772.3L1046.5 1772.4L1047.6 1772.5L1048.7 1782.1L1049.8 1830.6L1050.8 1857L1051.9 1857L1053 1857L1053 1876L1051.9 1876L1050.8 1876L1049.8 1876L1048.7 1876L1047.6 1876L1046.5 1876L1045.5 1876L1044.4 1876L1043.3 1876L1042.2 1876L1041.2 1876L1040.1 1876ZM1064.5 1824.2L1065.6 1857L1066.6 1838.2L1067.7 1840L1068.8 1841.8L1069.9 1851.4L1070.9 1857L1072 1857L1072 1876L1070.9 1876L1069.9 1876L1068.8 1876L1067.7 1876L1066.6 1876L1065.6 1876L1064.5 1876ZM1075.9 1810L1077 1810L1078 1810L1079.1 1776.5L1080.2 1762.4L1081.2 1743.2L1082.3 1728.5L1083.4 1706L1084.4 1689.2L1085.5 1689.4L1085.5 1825.1L1081.2 1825.1L1081.2 1809.1L1078 1809.1L1078 1813L1075.9 1813ZM1085.5 1689.4L1086.5 1689.7L1087.5 1675.3L1088.5 1677.1L1089.6 1678.8L1090.6 1664.7L1091.6 1665.5L1092.6 1666.2L1092.6 1781.5L1092.6 1781.5L1092.6 1772.8L1089.6 1772.8L1089.6 1790.6L1085.5 1790.6ZM1092.6 1666.2L1093.6 1658.9L1094.6 1658.9L1095.6 1658.9L1096.6 1658.9L1097.6 1658.9L1098.6 1663.5L1098.6 1739.5L1096.6 1739.5L1096.6 1740.2L1092.6 1740.2ZM1098.6 1663.5L1099.6 1661.7L1100.6 1659.8L1101.6 1651L1102.6 1650.7L1103.6 1650.4L1104.6 1650.1L1104.6 1696L1104.6 1696L1104.6 1691.2L1101.6 1691.2L1101.6 1693.9L1098.6 1693.9ZM1104.6 1650.1L1105.6 1650.5L1106.6 1651.2L1107.7 1651.8L1108.7 1652.5L1109.7 1653.1L1110.7 1660.1L1110.7 1772.3L1110.7 1772.3L1110.7 1765.4L1107.7 1765.4L1107.7 1766L1104.6 1766ZM1110.7 1660.1L1111.8 1658.5L1112.8 1657L1113.9 1655.4L1115 1690.4L1116 1691.3L1117.1 1692.1L1118.2 1693L1119.2 1693.9L1120.3 1718.6L1120.3 1763.5L1119.2 1763.5L1119.2 1785.3L1115 1785.3L1115 1762.5L1110.7 1762.5ZM1120.3 1718.6L1121.5 1719.3L1122.7 1745.5L1123.9 1743.8L1123.9 1784.5L1122.7 1784.5L1122.7 1783.7L1120.3 1783.7ZM1123.9 1743.8L1124.9 1742.3L1126 1740.8L1127 1754L1128 1754.3L1129.1 1754.6L1130.1 1754.9L1131.1 1755.2L1132.2 1783.4L1133.2 1782.5L1134.3 1781.5L1135.3 1780.5L1136.3 1812.2L1137.4 1830.9L1138.4 1843.7L1139.4 1857L1140.5 1857L1141.5 1857L1141.5 1876L1140.5 1876L1139.4 1876L1138.4 1876L1137.4 1876L1136.3 1876L1135.3 1876L1134.3 1876L1133.2 1876L1132.2 1876L1131.1 1876L1130.1 1876L1129.1 1876L1128 1876L1127 1876L1126 1876L1124.9 1876L1123.9 1876ZM1166 1876L1166.5 1852.2L1167 1857.8L1167.5 1863.3L1168 1868.4L1168.5 1846L1169 1785.6L1169.5 1783L1170 1780L1170.5 1775.6L1171 1768L1171.1 1756.2L1175 1751.1L1175 1744.9L1180.4 1744.2L1180.4 1720.3L1184.4 1724.6L1184.4 1698.1L1187.2 1704.5L1187.2 1668.2L1192 1665.3L1192 1639.7L1194.9 1643.6L1194.9 1630.5L1199.5 1635L1199.5 1623.1L1205 1623.1L1205 1604.3L1209.7 1604.3L1209.7 1583.6L1214.6 1588.1L1214.6 1574.4L1218.4 1579.2L1218.4 1565.7L1221.1 1565.7L1221.1 1562.5L1224.3 1566L1224.3 1566.4L1229.4 1558.7L1229.4 1554.5L1234.2 1554.5L1234.2 1550.9L1238.5 1550.9L1238.5 1548L1241.6 1548L1241.6 1545.3L1245.5 1545.3L1245.5 1542.3L1250.5 1542.3L1250.5 1539.8L1253.3 1539.8L1253.3 1548.8L1258.5 1549.7L1258.5 1545.2L1261.2 1551L1261.2 1544.4L1265.9 1546.8L1265.9 1527.1L1268.4 1531.9L1268.4 1518.7L1273.5 1516.5L1273.5 1511.2L1277 1509.9L1277 1506.2L1281.1 1510.3L1281.1 1502.3L1283.7 1502.6L1283.7 1482.5L1288.2 1475.2L1288.2 1460.5L1293.7 1453.8L1293.7 1434.5L1297.1 1432.9L1297.1 1408.6L1302.1 1408.3L1302.1 1363.3L1305.1 1366L1305.1 1340.4L1307.7 1344.8L1307.7 1278.6L1312.2 1280.5L1312.2 1209.6L1315.5 1203L1316 1175.4L1316.5 1099.7L1317 1099.7L1317.5 1099.7L1318 1099.6L1318.5 1099.4L1319 935.9L1319.5 930.8L1320 930.8L1320.2 934.1L1322.9 930.8L1322.9 930.8L1325.8 935.7L1325.8 932.9L1324.8 1296.6L1323.8 1400.2L1322.8 1427.2L1321.8 1447.5L1320.8 1572.8L1319.8 1647.4L1318.8 1653.7L1317.8 1694.7L1314.8 1694.7L1314.8 1750.4L1311.8 1750.4L1311.8 1779L1307.8 1779L1307.8 1813.2L1304.8 1813.2L1304.8 1837.8L1299.8 1837.8L1299.8 1798.3L1296.8 1798.3L1296.8 1782.9L1292.8 1782.9L1292.8 1738.9L1288.8 1738.9L1288.8 1775.8L1283.8 1775.8L1283.8 1824.1L1279.8 1824.1L1279.8 1811.6L1276.8 1811.6L1276.8 1789.7L1273.8 1789.7L1273.8 1743.9L1268.8 1743.9L1268.8 1745.2L1265.8 1745.2L1265.8 1743.3L1260.8 1743.3L1260.8 1748.1L1257.8 1748.1L1257.8 1733.2L1252.8 1733.2L1252.8 1702.8L1247.8 1702.8L1247.8 1729.8L1242.8 1729.8L1242.8 1716.1L1239.8 1716.1L1239.8 1731.2L1234.8 1731.2L1234.8 1702.4L1229.8 1702.4L1229.8 1701.7L1224.8 1701.7L1224.8 1730.1L1219.8 1730.1L1219.8 1749.2L1216.8 1749.2L1216.8 1741.9L1212.8 1741.9L1212.8 1717.7L1207.8 1717.7L1207.8 1716.9L1204.8 1716.9L1204.8 1755.9L1200.8 1755.9L1200.8 1760.8L1196.8 1760.8L1196.8 1823.6L1193.8 1823.6L1193.8 1796.7L1189.8 1796.7L1189.8 1801.8L1184.8 1801.8L1184.8 1876L1180.8 1876L1180.8 1876L1176.8 1876L1176.8 1876L1171.8 1876L1171.8 1876L1166.8 1876ZM1323.6 436L1336 436L1336 724L1323.6 724ZM1333.8 928.8L1338 931.5L1338.2 926.2L1338.8 926.2L1339.2 931L1339.8 928.3L1340.2 930.9L1340.8 1094.6L1341.2 1094.7L1341.8 1102.6L1342.2 1100.2L1342.8 1098.8L1343.2 1159.3L1343.8 1203.8L1344.2 1206.4L1344.8 1208.9L1345.2 1213.5L1345.8 1208.5L1346.2 1209.3L1346.8 1210.6L1347.2 1212.2L1347.8 1239L1348.2 1262.5L1348.8 1266.2L1349.2 1272.5L1349.8 1287.5L1350.2 1289L1350.8 1289.4L1351.2 1292.7L1351.8 1337.5L1352.2 1354L1352.8 1358.3L1353.2 1355L1353.8 1352.2L1354.2 1355.4L1354.4 1365.2L1358 1365.2L1358 1386.7L1362.6 1392.7L1362.6 1429.5L1366.5 1424L1366.5 1455.4L1369.9 1459.6L1369.9 1481.7L1372.7 1477.9L1372.7 1494.3L1377 1491.4L1377 1494.2L1379.7 1492.7L1379.7 1490.2L1383.6 1497.4L1383.6 1499.1L1387.3 1501.7L1387.3 1517.3L1390.7 1516.1L1390.7 1531.7L1393.9 1529.9L1393.9 1540.5L1397.9 1540.5L1397.9 1547.1L1403 1546.6L1403 1536.6L1407.9 1533L1407.9 1547.7L1411.3 1540.1L1411.3 1558.3L1415.6 1556.1L1415.6 1562.2L1420 1560.3L1420 1562.1L1424.7 1561.7L1424.7 1558.2L1429.1 1564L1429.1 1563.9L1431.8 1563.9L1431.8 1568.7L1434.7 1568.7L1434.7 1575.3L1439.6 1575.3L1439.6 1588.9L1442.8 1587L1442.8 1599.4L1447 1605.5L1447 1605L1449.7 1605L1449.7 1625.4L1453.9 1620.9L1453.9 1646.4L1457.3 1639.6L1457.3 1652L1459.9 1652L1459.9 1666.8L1462.5 1661.3L1462.5 1673.7L1465.7 1673.7L1465.7 1704.8L1469.7 1700.6L1469.7 1726L1474.5 1728.4L1474.5 1746L1477.1 1743.2L1477.1 1773.6L1481.1 1766.1L1481.2 1791.1L1481.8 1796.9L1482.2 1802.6L1482.8 1812.3L1483.2 1814.1L1483.8 1837.7L1484.2 1863.2L1484.8 1875.8L1485.2 1873.9L1485.8 1871.7L1486.2 1853L1486.7 1876L1485.8 1876L1484.8 1876L1483.8 1876L1482.8 1876L1481.8 1876L1480.8 1876L1479.8 1876L1478.8 1876L1478.8 1876L1478.8 1876L1475.8 1876L1475.8 1876L1471.8 1876L1471.8 1833.8L1466.8 1833.8L1466.8 1801L1461.8 1801L1461.8 1786.6L1456.8 1786.6L1456.8 1780.1L1453.8 1780.1L1453.8 1772.8L1448.8 1772.8L1448.8 1719.7L1443.8 1719.7L1443.8 1701.4L1440.8 1701.4L1440.8 1736.3L1435.8 1736.3L1435.8 1745.9L1431.8 1745.9L1431.8 1686.1L1427.8 1686.1L1427.8 1685.8L1423.8 1685.8L1423.8 1690.3L1419.8 1690.3L1419.8 1704.2L1414.8 1704.2L1414.8 1711.3L1409.8 1711.3L1409.8 1706.4L1404.8 1706.4L1404.8 1728.1L1400.8 1728.1L1400.8 1707.8L1396.8 1707.8L1396.8 1729.6L1391.8 1729.6L1391.8 1754.4L1388.8 1754.4L1388.8 1777L1385.8 1777L1385.8 1750.5L1380.8 1750.5L1380.8 1779.8L1377.8 1779.8L1377.8 1802.1L1374.8 1802.1L1374.8 1789.7L1369.8 1789.7L1369.8 1743.8L1366.8 1743.8L1366.8 1682L1361.8 1682L1361.8 1717.8L1358.8 1717.8L1358.8 1778.4L1354.8 1778.4L1354.8 1795.1L1349.8 1795.1L1349.8 1722.4L1344.8 1722.4L1344.8 1724.2L1340.8 1724.2L1340.8 1599.4L1337.8 1599.4L1337.8 1371.9L1333.8 1371.9ZM1512 1876L1512.5 1866.5L1513 1857L1513.5 1875.3L1514 1875.6L1514.5 1870.3L1515 1860.8L1515.5 1854.4L1516 1831.8L1516.5 1816L1517 1807.2L1517.2 1777.4L1520.7 1780L1520.7 1747.8L1525.1 1740.6L1525.1 1749L1527.7 1741.8L1527.7 1738.8L1532.4 1738.8L1532.4 1693.1L1536.6 1695.4L1536.6 1659.4L1540.3 1659.4L1540.3 1652L1543.6 1649.8L1543.6 1647.1L1546.3 1647.1L1546.3 1655.3L1549.6 1655.3L1549.6 1660.3L1553.4 1665.6L1553.4 1662.2L1557.1 1659.5L1557.1 1669.3L1560.1 1670.2L1560.1 1673.3L1564.7 1673.3L1564.7 1689.8L1567.2 1689.8L1567.2 1718.7L1570.2 1720.8L1570.2 1782.2L1573.6 1785.4L1573.6 1811.4L1576.6 1809.3L1576.6 1825.7L1581.6 1828.4L1581.6 1833.6L1586.9 1839.5L1587 1850.6L1587.5 1863.3L1588 1833.1L1588.5 1876L1589 1875.4L1589.5 1858.2L1590 1870.9L1590.2 1876L1590 1876L1589 1876L1588 1876L1587 1876L1586 1876L1585 1876L1584 1876L1583 1876L1581 1876L1581 1876L1578 1876L1578 1876L1575 1876L1575 1876L1570 1876L1570 1830.2L1565 1830.2L1565 1748L1561 1748L1561 1751.2L1557 1751.2L1557 1696.2L1554 1696.2L1554 1699.5L1550 1699.5L1550 1759.9L1546 1759.9L1546 1768.5L1543 1768.5L1543 1770.2L1539 1770.2L1539 1746.5L1534 1746.5L1534 1771.2L1530 1771.2L1530 1876L1526 1876L1526 1876L1521 1876L1521 1876L1517 1876L1517 1876L1513 1876ZM1601.4 1876L1601.9 1851.3L1602.4 1869.4L1602.9 1871.5L1603.4 1873.4L1603.9 1861.2L1604.4 1842.2L1604.9 1814.7L1605.4 1793.7L1605.9 1762.3L1606.1 1733.2L1610.7 1733.2L1610.7 1719.4L1613.3 1721.3L1613.3 1718.3L1618.2 1718.3L1618.2 1694L1621.4 1694L1621.4 1677.8L1624.2 1670.5L1624.2 1654.4L1629.6 1648.5L1629.6 1668.3L1632.4 1663.2L1632.4 1697.6L1637.7 1702.5L1637.7 1731L1640.9 1731L1640.9 1753.9L1644 1748.9L1644 1786.8L1649.2 1779.8L1649.4 1802.2L1649.9 1809.9L1650.4 1806.3L1650.9 1817.6L1651.4 1814L1651.9 1816.3L1652.4 1827.3L1652.9 1843.3L1653.4 1852.9L1653.9 1865.7L1654.4 1872.6L1654.9 1871.9L1655.4 1876L1655.9 1860.6L1656.4 1873.4L1656.5 1876L1656.4 1876L1655.4 1876L1654.4 1876L1653.4 1876L1652.4 1876L1651.4 1876L1650.4 1876L1649.4 1876L1648.4 1876L1648.4 1876L1645.4 1876L1645.4 1779.9L1640.4 1779.9L1640.4 1764.4L1636.4 1764.4L1636.4 1766.5L1631.4 1766.5L1631.4 1780.2L1628.4 1780.2L1628.4 1784.9L1625.4 1784.9L1625.4 1779.9L1621.4 1779.9L1621.4 1760L1616.4 1760L1616.4 1847.2L1611.4 1847.2L1611.4 1876L1606.4 1876L1606.4 1876L1601.4 1876ZM1665 1876L1665.5 1847.7L1666 1854.3L1666.5 1860.8L1667 1866.9L1667.5 1839.1L1668 1813.9L1668.5 1804.2L1669 1783.8L1669.5 1770.2L1670 1756.6L1670.5 1743L1671 1729.4L1671.5 1715.9L1671.7 1696.8L1675.5 1696.8L1675.5 1678.1L1680.5 1681.5L1680.5 1663L1685.2 1666.7L1685.2 1647.6L1690.6 1648.3L1690.6 1642.6L1693.1 1644.1L1693.1 1665.7L1697 1665.7L1697 1683.2L1697.5 1689.3L1698 1703.3L1698.5 1706.7L1699 1723.2L1699.5 1724.1L1700 1732.8L1700.5 1746.2L1701 1750.2L1701.5 1759L1702 1770.9L1702.5 1777.6L1703 1793.3L1703.5 1798.1L1704 1808.4L1704.5 1818.7L1705 1831.9L1705.5 1842L1706 1852.2L1706.5 1867.1L1707 1874.8L1707.5 1874L1708 1872.8L1708.5 1861.1L1709 1876L1708.4 1876L1707.4 1876L1706.4 1876L1705.4 1876L1704.4 1876L1703.4 1876L1702.4 1876L1701.4 1876L1698.4 1876L1698.4 1876L1695.4 1876L1695.4 1788.1L1692.4 1788.1L1692.4 1785.5L1688.4 1785.5L1688.4 1715.3L1685.4 1715.3L1685.4 1722.3L1681.4 1722.3L1681.4 1790.3L1676.4 1790.3L1676.4 1876L1672.4 1876L1672.4 1876L1668.4 1876L1668.4 1876L1665.4 1876ZM1720 1746L1721 1746L1722 1746L1723 1746L1724 1746L1725 1726.3L1726 1708.4L1726 1876L1725 1876L1724 1876L1723 1876L1722 1876L1721 1876L1720 1876ZM1726 1708.4L1727.2 1691.8L1728.3 1696.2L1729.5 1678.7L1730.7 1611.4L1730.7 1808.8L1730.7 1808.8L1730.7 1842.7L1726 1842.7ZM1730.7 1611.4L1731.7 1611.4L1732.8 1611.4L1733.8 1574.7L1734.8 1574.7L1735.8 1574.7L1736.9 1574.7L1737.9 1566.2L1737.9 1776.5L1734.8 1776.5L1734.8 1780L1730.7 1780ZM1737.9 1566.2L1738.9 1567.2L1739.9 1568.3L1740.9 1569.3L1742 1597.3L1743 1597.3L1744 1597.3L1745 1639.1L1745 1809.9L1745 1809.9L1745 1810.8L1740.9 1810.8L1740.9 1806.4L1737.9 1806.4ZM1745 1639.1L1746 1638.4L1747.1 1637.7L1748.2 1636.9L1749.2 1676L1750.2 1673.3L1751.3 1727.2L1752.3 1727.2L1753.4 1727.2L1754.5 1727.2L1755.5 1727.2L1756.5 1764L1757.6 1765.3L1758.6 1766.7L1759.7 1768L1760.8 1769.3L1761.8 1768.7L1761.8 1876L1760.8 1876L1759.7 1876L1758.6 1876L1757.6 1876L1756.5 1876L1755.5 1876L1754.5 1876L1753.4 1876L1752.3 1876L1751.3 1876L1750.2 1876L1749.2 1876L1748.2 1876L1747.1 1876L1746 1876L1745 1876ZM1761.8 1768.7L1762.8 1700.5L1763.8 1731L1764.9 1689.4L1765.9 1670.5L1766.9 1669.3L1767.9 1668.2L1769 1667L1770 1565.6L1771 1558.2L1772 1552L1773 1545.8L1774.1 1477.6L1775.1 1456.7L1776.1 1394.2L1777.1 1398L1778.1 1277.2L1779.2 1317.4L1780.2 1299.4L1781.2 1277.2L1782.2 1279.4L1783.2 1277.2L1784.3 1276.9L1785.3 1270.5L1786.3 1162L1787.3 1046.8L1788.4 959.5L1789.4 918.7L1790.4 821L1790.4 1876L1789.4 1876L1788.4 1876L1787.3 1876L1786.3 1876L1785.3 1876L1784.3 1876L1783.2 1876L1782.2 1876L1781.2 1876L1780.2 1876L1779.2 1876L1778.1 1876L1777.1 1876L1776.1 1876L1775.1 1876L1774.1 1876L1773 1876L1772 1876L1771 1876L1770 1876L1769 1876L1767.9 1876L1766.9 1876L1765.9 1876L1764.9 1876L1763.8 1876L1762.8 1876L1761.8 1876ZM1797.2 743.9L1798.2 946.2L1799.2 1049L1800.3 1077.6L1801.3 1092.7L1802.3 1125.8L1802.3 1448.6L1801.3 1448.6L1801.3 1456.4L1797.2 1456.4ZM1802.3 1125.8L1803.5 1171.8L1804.7 1217.2L1805.8 1256.8L1807 1307.4L1807 1586.6L1807 1586.6L1807 1611.4L1802.3 1611.4ZM1807 1307.4L1808.3 1360.6L1808.3 1680.7L1807 1680.7ZM1808.3 1360.6L1809.3 1448.7L1810.4 1449.9L1811.4 1451L1812.5 1452.1L1813.5 1473.7L1814.6 1555.1L1815.6 1638.8L1816.7 1657.2L1817.7 1656.4L1818.7 1655.7L1819.8 1655L1820.8 1654.2L1821.9 1652.3L1822.9 1652.8L1824 1653.3L1825 1653.8L1825 1876L1824 1876L1822.9 1876L1821.9 1876L1820.8 1876L1819.8 1876L1818.7 1876L1817.7 1876L1816.7 1876L1815.6 1876L1814.6 1876L1813.5 1876L1812.5 1876L1811.4 1876L1810.4 1876L1809.3 1876L1808.3 1876ZM1825 1653.8L1826 1597.6L1827 1561.1L1828 1535.5L1829 1514.8L1830 1487.8L1831 1466.5L1831 1735.8L1831 1735.8L1831 1727.7L1828 1727.7L1828 1738.3L1825 1738.3ZM1831 1466.5L1832 1439.4L1833.1 1428.4L1834.1 1427.7L1835.1 1426.9L1836.1 1417L1837.2 1418L1838.2 1418.9L1839.2 1449.5L1840.2 1451.1L1841.3 1452.6L1842.3 1454.2L1842.3 1605.2L1840.2 1605.2L1840.2 1592.9L1836.1 1592.9L1836.1 1605.6L1831 1605.6ZM1842.3 1454.2L1843.4 1487.8L1844.5 1502.7L1845.7 1523.6L1846.8 1578.8L1847.9 1617L1849 1617L1849 1620L1846.8 1620L1846.8 1626.7L1842.3 1626.7ZM1849 1660.5L1850 1683.2L1851 1691.5L1852 1705.5L1853 1762L1853 1765L1852 1765L1852 1754L1849 1754ZM1871 1534.5L1872 1519.1L1873.1 1499.9L1874.1 1487.7L1875.2 1473.6L1876.2 1463.2L1877.2 1456.4L1878.3 1450.2L1879.3 1452.3L1880.3 1457.7L1881.4 1466.4L1882.4 1471.2L1883.5 1476.7L1884.5 1486.1L1884.5 1569.7L1883.5 1569.7L1883.5 1569.7L1878.3 1569.7L1878.3 1566.3L1875.2 1566.3L1875.2 1572.8L1871 1572.8ZM1884.5 1486.1L1885.6 1486.7L1886.8 1495.9L1887.9 1512.7L1889 1535.8L1889 1593.5L1884.5 1593.5ZM1913 1592.7L1914 1578.2L1915 1566.1L1916 1544.1L1917 1530.2L1918 1519.6L1919 1510.5L1920 1500.2L1921 1496.5L1922 1493.8L1923 1500.3L1924 1506.2L1925 1517.7L1926 1521.4L1927 1522.8L1927 1594.5L1924 1594.5L1924 1590.7L1920 1590.7L1920 1592.3L1916 1592.3L1916 1593.4L1913 1593.4ZM1963.6 1563.1L1964.6 1553.2L1965.6 1546.7L1966.6 1548.7L1967.6 1557.5L1968.7 1560.6L1969.7 1571.8L1970.7 1577.6L1971.7 1587.3L1972.7 1598.1L1973.7 1606.8L1973.7 1630L1969.7 1630L1969.7 1597.8L1966.6 1597.8L1966.6 1595.6L1963.6 1595.6ZM1958 1616.7L1959.1 1592.3L1960.2 1585L1961.4 1573.9L1962.5 1568.9L1963.6 1563.1L1963.6 1645.4L1961.4 1645.4L1961.4 1643.5L1958 1643.5ZM2004 1546L2005 1542.1L2006.1 1536L2007.1 1529.7L2008.1 1523L2009.2 1519.6L2010.2 1510.9L2011.2 1503.3L2012.3 1498.8L2013.3 1501.9L2014.3 1512.3L2015.4 1520.7L2016.4 1532.1L2016.4 1548.4L2016.4 1548.4L2016.4 1548.1L2013.3 1548.1L2013.3 1546.4L2008.1 1546.4L2008.1 1545.5L2004 1545.5ZM2045.5 1598.8L2046.5 1586.8L2047.6 1583.5L2048.7 1578.8L2049.7 1572.2L2050.8 1565.8L2051.8 1558.7L2052.8 1551.9L2053.9 1546.8L2055 1551.1L2056 1558.7L2057.1 1569.9L2058.1 1579.2L2059.2 1591.9L2060.2 1606.4L2061.2 1611L2062.3 1611L2062.3 1614L2061.2 1614L2061.2 1623.7L2058.1 1623.7L2058.1 1634.7L2055 1634.7L2055 1613.4L2050.8 1613.4L2050.8 1609.2L2045.5 1609.2Z" fill="#0072bd" stroke="none"/></g><g font-family="'Liberation Sans', Arial, Helvetica, sans-serif" font-size="67.5" fill="#262626" stroke="#262626" stroke-width="1.0" stroke-linejoin="round"><text x="215.5" y="1954" text-anchor="middle">-15</text><text x="586.3" y="1954" text-anchor="middle">-10</text><text x="957.2" y="1954" text-anchor="middle">-5</text><text x="1328.0" y="1954" text-anchor="middle">0</text><text x="1698.8" y="1954" text-anchor="middle">5</text><text x="2069.7" y="1954" text-anchor="middle">10</text><text x="2440.5" y="1954" text-anchor="middle">15</text><text x="187" y="1883.5" text-anchor="end">35</text><text x="187" y="1663.9" text-anchor="end">40</text><text x="187" y="1444.4" text-anchor="end">45</text><text x="187" y="1224.8" text-anchor="end">50</text><text x="187" y="1005.2" text-anchor="end">55</text><text x="187" y="785.7" text-anchor="end">60</text><text x="187" y="566.1" text-anchor="end">65</text><text x="187" y="346.6" text-anchor="end">70</text><text x="187" y="127.0" text-anchor="end">75</text></g><rect x="192.5" y="1947.6" width="13.2" height="7.9" fill="#fff"/><rect x="212.3" y="1947.6" width="13.7" height="7.9" fill="#fff"/><rect x="563.5" y="1947.6" width="13.2" height="7.9" fill="#fff"/><rect x="583.3" y="1947.6" width="12.7" height="7.9" fill="#fff"/><rect x="2035.5" y="1947.6" width="13.2" height="7.9" fill="#fff"/><rect x="2055.3" y="1947.6" width="13.7" height="7.9" fill="#fff"/><rect x="2406.5" y="1947.6" width="13.2" height="7.9" fill="#fff"/><rect x="2426.3" y="1947.6" width="12.7" height="7.9" fill="#fff"/><text x="1329" y="2058" text-anchor="middle" font-family="'Liberation Sans', Arial, Helvetica, sans-serif" font-size="77" fill="#262626" stroke="#262626" stroke-width="1.0" stroke-linejoin="round">Range cell</text><text transform="translate(71,979.5) rotate(-90)" x="0" y="0" text-anchor="middle" font-family="'Liberation Sans', Arial, Helvetica, sans-serif" font-size="77" fill="#262626" stroke="#262626" stroke-width="1.0" stroke-linejoin="round">Compressed echo amplitude (dB)</text><text x="1328.5" y="64" text-anchor="middle" font-family="'Liberation Sans', Arial, Helvetica, sans-serif" font-size="76.8" font-weight="bold" fill="#000" stroke="#000" stroke-width="0.6" stroke-linejoin="round">3-pulse, 2-target LFM pulse compression</text><rect x="837.1" y="561.1" width="58.7" height="58.7" fill="#ffffdd"/><rect x="840.6" y="564.6" width="51.7" height="51.7" fill="#c4c4a8"/><rect x="843.2" y="567.2" width="46.6" height="46.6" fill="#d2d2b8"/><rect x="844.5" y="568.9" width="44" height="43.2" fill="#000"/><rect x="1765.6" y="561.1" width="58.7" height="58.7" fill="#ffffdd"/><rect x="1769.1" y="564.6" width="51.7" height="51.7" fill="#c4c4a8"/><rect x="1771.6" y="567.2" width="46.6" height="46.6" fill="#d2d2b8"/><rect x="1772.9" y="568.9" width="44" height="43.2" fill="#000"/><rect x="1297" y="407" width="66" height="58.8" fill="#ffffdd"/><rect x="1300" y="410.1" width="10" height="51.6" fill="#c4c4a8"/><rect x="1304" y="414" width="3" height="44" fill="#d6d6bc"/><rect x="1307" y="410.1" width="51.8" height="52.7" fill="#adad93"/><rect x="1353" y="410.1" width="5.8" height="52.7" fill="#c4c4a8"/><rect x="1307" y="414.6" width="4" height="43.5" fill="#a09f88"/><rect x="1311" y="415" width="37" height="43" fill="#000"/><rect x="1348" y="415" width="7" height="43" fill="#3d3d33"/><rect x="902.1" y="187.1" width="390.8" height="214.5" fill="#ffffee" stroke="#cccccc" stroke-width="4.2"/><text x="921.0" y="278.0" font-family="'Liberation Sans', Arial, Helvetica, sans-serif" font-size="67" fill="#000" stroke="#000" stroke-width="1.1" stroke-linejoin="round">X: -0.05247</text><text x="921.0" y="365.4" font-family="'Liberation Sans', Arial, Helvetica, sans-serif" font-size="67" fill="#000" stroke="#000" stroke-width="1.1" stroke-linejoin="round">Y: 67.36</text><rect x="1367.2" y="187.2" width="364.0" height="215.1" fill="#ffffee" stroke="#cccccc" stroke-width="4.2"/><text x="1386.0" y="278.2" font-family="'Liberation Sans', Arial, Helvetica, sans-serif" font-size="67" fill="#000" stroke="#000" stroke-width="1.1" stroke-linejoin="round">X: 0.03748</text><text x="1386.0" y="364.7" font-family="'Liberation Sans', Arial, Helvetica, sans-serif" font-size="67" fill="#000" stroke="#000" stroke-width="1.1" stroke-linejoin="round">Y: 67.35</text><rect x="519.2" y="625.3" width="312.5" height="214.4" fill="#ffffee" stroke="#cccccc" stroke-width="4.2"/><text x="537.0" y="715.8" font-family="'Liberation Sans', Arial, Helvetica, sans-serif" font-size="67" fill="#000" stroke="#000" stroke-width="1.1" stroke-linejoin="round">X: -6.259</text><text x="537.0" y="803.0" font-family="'Liberation Sans', Arial, Helvetica, sans-serif" font-size="67" fill="#000" stroke="#000" stroke-width="1.1" stroke-linejoin="round">Y: 63.83</text><rect x="1829.2" y="625.3" width="291.3" height="214.4" fill="#ffffee" stroke="#cccccc" stroke-width="4.2"/><text x="1847.0" y="715.8" font-family="'Liberation Sans', Arial, Helvetica, sans-serif" font-size="67" fill="#000" stroke="#000" stroke-width="1.1" stroke-linejoin="round">X: 6.259</text><text x="1847.0" y="803.0" font-family="'Liberation Sans', Arial, Helvetica, sans-serif" font-size="67" fill="#000" stroke="#000" stroke-width="1.1" stroke-linejoin="round">Y: 63.83</text></svg></body></html>
